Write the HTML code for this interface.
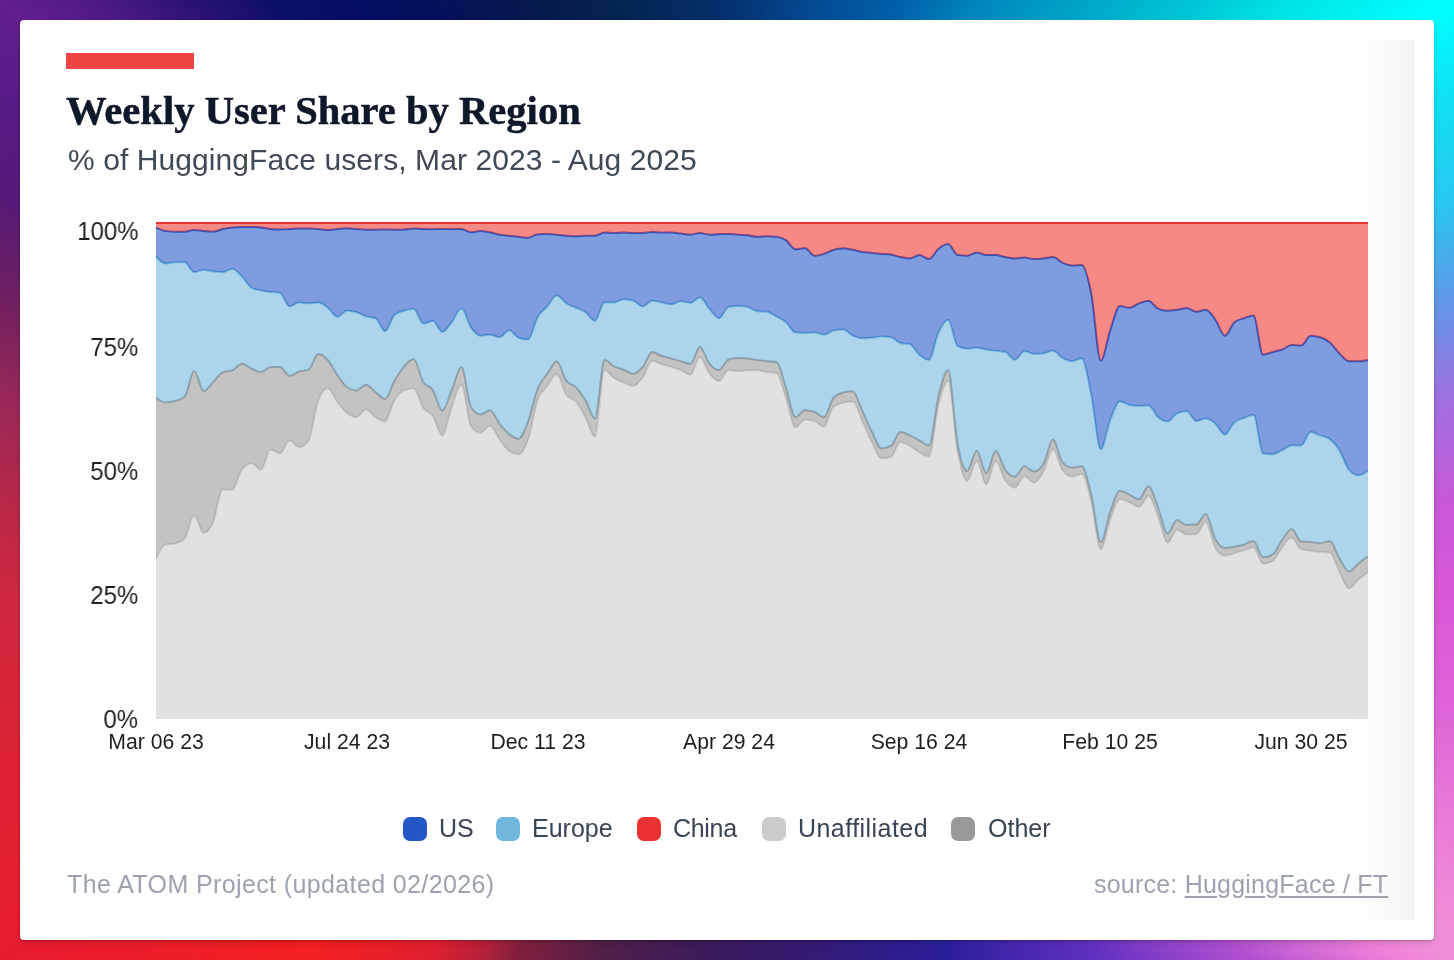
<!DOCTYPE html>
<html><head><meta charset="utf-8">
<style>
html,body{margin:0;padding:0;width:1454px;height:960px;overflow:hidden;}
body{position:relative;background:conic-gradient(from 0deg at 50% 50%,
 #05306e 0deg,#044a92 10deg,#0060a8 19.8deg,#0086bd 28deg,#00a8c8 37.8deg,#00c8d8 45deg,#00e4e6 50deg,#00ffff 56.6deg,
 #10e0f4 62deg,#28c8f0 68.7deg,#6098e8 75.9deg,#a070e0 83.6deg,#c858d8 91.6deg,#d858d8 99.5deg,#e068d8 109.2deg,#e878d8 114.1deg,#f08ad8 120.4deg,#f090d8 123.4deg,#f080d8 125.5deg,#b050d0 132.5deg,
 #6030c0 142.2deg,#2a1f9a 155deg,#341a70 171deg,#3c1a5a 183deg,#502048 195deg,#80203c 203.8deg,#b0203a 207deg,#e02030 212deg,#f42020 221.7deg,#e81c30 236.6deg,#e61f30 239.6deg,#e02234 245.9deg,#dc2438 250.8deg,
 #d02840 260.5deg,#b82848 268.4deg,#982858 276.4deg,#702060 284.1deg,#561a78 291.3deg,#581c88 297.9deg,#611f8d 303.4deg,#4e1a85 307deg,#2c1275 311.3deg,#0c0f66 316.4deg,#040e62 322.6deg,#061258 330deg,
 #061a4c 338.7deg,#052450 347deg,#05306e 360deg);}
.card{position:absolute;left:20px;top:20px;width:1414px;height:920px;background:#fff;border-radius:4px;box-shadow:0 1px 2px rgba(0,0,0,.18),0 3px 6px rgba(0,0,0,.12);}
.fade{position:absolute;left:1356px;top:40px;width:58px;height:880px;background:linear-gradient(90deg,rgba(0,0,0,0),rgba(0,0,0,.018) 50%,rgba(0,0,0,.045));}
.abs{position:absolute;white-space:nowrap;will-change:transform;}
.bar{position:absolute;left:66px;top:53px;width:128px;height:16px;background:#ef4444;}
.title{left:66px;top:86px;font-family:"Liberation Serif",serif;font-weight:700;font-size:40.6px;color:#0f172a;line-height:50px;-webkit-text-stroke:0.5px #0f172a;}
.sub{left:67.5px;top:142px;font-family:"Liberation Sans",sans-serif;font-size:30px;letter-spacing:.08px;color:#3f4957;line-height:36px;}
.yl{font-family:"Liberation Sans",sans-serif;font-size:25.6px;color:#1f1f1f;right:1316px;line-height:28px;text-align:right;transform:scaleX(.935);transform-origin:100% 50%;}
.xl{font-family:"Liberation Sans",sans-serif;font-size:21.2px;color:#1f1f1f;line-height:24px;width:200px;text-align:center;top:730px;}
.leg{font-family:"Liberation Sans",sans-serif;font-size:25px;color:#394454;line-height:30px;top:813px;}
.sw{position:absolute;top:817px;width:24px;height:24px;border-radius:7px;}
.foot{font-family:"Liberation Sans",sans-serif;font-size:25px;color:#9ca3af;line-height:30px;top:869px;}
svg{position:absolute;left:0;top:0;}
</style></head><body>
<div class="card"></div>
<div class="fade"></div>
<div class="bar"></div>
<div class="abs title">Weekly User Share by Region</div>
<div class="abs sub">% of HuggingFace users, Mar 2023 - Aug 2025</div>
<svg width="1454" height="960" viewBox="0 0 1454 960">
<path d="M156,559.2C159.18,552.27,162.36,545.33,165.54,544.6C168.72,543.87,171.91,544.23,175.09,543.5C178.27,542.77,181.45,541.97,184.63,538.9C187.81,535.83,190.99,515.4,194.17,515.4C197.35,515.4,200.54,533.1,203.72,533.1C206.9,533.1,210.08,529.18,213.26,521.9C216.44,514.62,219.62,489.4,222.8,489.4C225.98,489.4,229.17,489.9,232.35,489.9C235.53,489.9,238.71,474.13,241.89,469.8C245.07,465.47,248.25,463.3,251.43,463.3C254.61,463.3,257.8,469.8,260.98,469.8C264.16,469.8,267.34,449.8,270.52,449.8C273.7,449.8,276.88,453.4,280.06,453.4C283.24,453.4,286.43,440.4,289.61,440.4C292.79,440.4,295.97,447.2,299.15,447.2C302.33,447.2,305.51,444.93,308.69,440.4C311.87,435.87,315.06,409.13,318.24,400.8C321.42,392.47,324.6,388.3,327.78,388.3C330.96,388.3,334.14,397.88,337.32,402C340.5,406.12,343.69,410.47,346.87,413C350.05,415.53,353.23,417.2,356.41,417.2C359.59,417.2,362.77,409.4,365.95,409.4C369.13,409.4,372.31,415.17,375.5,417.2C378.68,419.23,381.86,421.6,385.04,421.6C388.22,421.6,391.4,405.5,394.58,400.3C397.76,395.1,400.94,391.6,404.13,390.4C407.31,389.2,410.49,388.6,413.67,388.6C416.85,388.6,420.03,403.55,423.21,408.1C426.39,412.65,429.57,411.33,432.76,415.9C435.94,420.47,439.12,435.5,442.3,435.5C445.48,435.5,448.66,415.27,451.84,406.8C455.02,398.33,458.2,384.7,461.39,384.7C464.57,384.7,467.75,421.97,470.93,426.3C474.11,430.63,477.29,432.8,480.47,432.8C483.65,432.8,486.83,425.8,490.02,425.8C493.2,425.8,496.38,435.18,499.56,439.4C502.74,443.62,505.92,448.97,509.1,451.1C512.28,453.23,515.46,454.3,518.65,454.3C521.83,454.3,525.01,448.45,528.19,439.4C531.37,430.35,534.55,408.9,537.73,400C540.91,391.1,544.09,390.28,547.28,386C550.46,381.72,553.64,374.3,556.82,374.3C560,374.3,563.18,390.77,566.36,395.1C569.54,399.43,572.72,397.92,575.91,401.6C579.09,405.28,582.27,411.33,585.45,417.2C588.63,423.07,591.81,436.8,594.99,436.8C598.17,436.8,601.35,370.3,604.54,370.3C607.72,370.3,610.9,376.15,614.08,378.2C617.26,380.25,620.44,381.3,623.62,382.6C626.8,383.9,629.98,386,633.17,386C636.35,386,639.53,381.62,642.71,377.4C645.89,373.18,649.07,360.7,652.25,360.7C655.43,360.7,658.61,363.35,661.8,364.4C664.98,365.45,668.16,366.02,671.34,367C674.52,367.98,677.7,369,680.88,370.3C684.06,371.6,687.24,374.8,690.43,374.8C693.61,374.8,696.79,357.3,699.97,357.3C703.15,357.3,706.33,369.75,709.51,373.7C712.69,377.65,715.87,381,719.06,381C722.24,381,725.42,370.3,728.6,370.3C731.78,370.3,734.96,371.1,738.14,371.1C741.32,371.1,744.5,370.3,747.69,370.3C750.87,370.3,754.05,370.3,757.23,370.3C760.41,370.3,763.59,371.75,766.77,372.2C769.95,372.65,773.13,372.47,776.31,373C779.5,373.53,782.68,388.6,785.86,397.7C789.04,406.8,792.22,427.6,795.4,427.6C798.58,427.6,801.76,419.8,804.94,419.8C808.13,419.8,811.31,420.23,814.49,421.1C817.67,421.97,820.85,426.9,824.03,426.9C827.21,426.9,830.39,409.4,833.57,406.8C836.76,404.2,839.94,403.77,843.12,402.9C846.3,402.03,849.48,401.6,852.66,401.6C855.84,401.6,859.02,414.37,862.2,421.1C865.39,427.83,868.57,435.8,871.75,442C874.93,448.2,878.11,458.3,881.29,458.3C884.47,458.3,887.65,457.97,890.83,457.3C894.02,456.63,897.2,442,900.38,442C903.56,442,906.74,444.15,909.92,445.9C913.1,447.65,916.28,450.73,919.46,452.5C922.65,454.27,925.83,456.5,929.01,456.5C932.19,456.5,935.37,417.68,938.55,405.1C941.73,392.52,944.91,381,948.09,381C951.28,381,954.46,435.33,957.64,452C960.82,468.67,964,481,967.18,481C970.36,481,973.54,461.5,976.72,461.5C979.91,461.5,983.09,484.6,986.27,484.6C989.45,484.6,992.63,461.5,995.81,461.5C998.99,461.5,1002.17,476.23,1005.35,480.6C1008.54,484.97,1011.72,487.7,1014.9,487.7C1018.08,487.7,1021.26,476.3,1024.44,476.3C1027.62,476.3,1030.8,482.8,1033.98,482.8C1037.17,482.8,1040.35,477.07,1043.53,471.5C1046.71,465.93,1049.89,449.4,1053.07,449.4C1056.25,449.4,1059.43,466.37,1062.61,470.5C1065.8,474.63,1068.98,476.7,1072.16,476.7C1075.34,476.7,1078.52,474.1,1081.7,474.1C1084.88,474.1,1088.06,488.97,1091.24,501.5C1094.43,514.03,1097.61,549.3,1100.79,549.3C1103.97,549.3,1107.15,527.83,1110.33,519.5C1113.51,511.17,1116.69,499.3,1119.87,499.3C1123.06,499.3,1126.24,501.1,1129.42,502.4C1132.6,503.7,1135.78,507.1,1138.96,507.1C1142.14,507.1,1145.32,495.9,1148.5,495.9C1151.69,495.9,1154.87,508.88,1158.05,516.7C1161.23,524.52,1164.41,542.8,1167.59,542.8C1170.77,542.8,1173.95,529.7,1177.13,529.7C1180.31,529.7,1183.5,534.5,1186.68,534.5C1189.86,534.5,1193.04,534.43,1196.22,534.3C1199.4,534.17,1202.58,521.9,1205.76,521.9C1208.94,521.9,1212.13,542.8,1215.31,548C1218.49,553.2,1221.67,555.8,1224.85,555.8C1228.03,555.8,1231.21,554.07,1234.39,553.2C1237.57,552.33,1240.76,551.55,1243.94,550.6C1247.12,549.65,1250.3,547.5,1253.48,547.5C1256.66,547.5,1259.84,563.8,1263.02,563.8C1266.2,563.8,1269.39,562.93,1272.57,561.2C1275.75,559.47,1278.93,551.45,1282.11,547.5C1285.29,543.55,1288.47,537.5,1291.65,537.5C1294.83,537.5,1298.02,548.2,1301.2,549.2C1304.38,550.2,1307.56,550.23,1310.74,550.7C1313.92,551.17,1317.1,551.68,1320.28,552C1323.46,552.32,1326.65,552.2,1329.83,552.6C1333.01,553,1336.19,565.92,1339.37,571.9C1342.55,577.88,1345.73,588.5,1348.91,588.5C1352.09,588.5,1355.28,582.47,1358.46,579.7C1361.64,576.93,1364.82,574.42,1368,571.9L1368,719C1364.82,719,1361.64,719,1358.46,719C1355.28,719,1352.09,719,1348.91,719C1345.73,719,1342.55,719,1339.37,719C1336.19,719,1333.01,719,1329.83,719C1326.65,719,1323.46,719,1320.28,719C1317.1,719,1313.92,719,1310.74,719C1307.56,719,1304.38,719,1301.2,719C1298.02,719,1294.83,719,1291.65,719C1288.47,719,1285.29,719,1282.11,719C1278.93,719,1275.75,719,1272.57,719C1269.39,719,1266.2,719,1263.02,719C1259.84,719,1256.66,719,1253.48,719C1250.3,719,1247.12,719,1243.94,719C1240.76,719,1237.57,719,1234.39,719C1231.21,719,1228.03,719,1224.85,719C1221.67,719,1218.49,719,1215.31,719C1212.13,719,1208.94,719,1205.76,719C1202.58,719,1199.4,719,1196.22,719C1193.04,719,1189.86,719,1186.68,719C1183.5,719,1180.31,719,1177.13,719C1173.95,719,1170.77,719,1167.59,719C1164.41,719,1161.23,719,1158.05,719C1154.87,719,1151.69,719,1148.5,719C1145.32,719,1142.14,719,1138.96,719C1135.78,719,1132.6,719,1129.42,719C1126.24,719,1123.06,719,1119.87,719C1116.69,719,1113.51,719,1110.33,719C1107.15,719,1103.97,719,1100.79,719C1097.61,719,1094.43,719,1091.24,719C1088.06,719,1084.88,719,1081.7,719C1078.52,719,1075.34,719,1072.16,719C1068.98,719,1065.8,719,1062.61,719C1059.43,719,1056.25,719,1053.07,719C1049.89,719,1046.71,719,1043.53,719C1040.35,719,1037.17,719,1033.98,719C1030.8,719,1027.62,719,1024.44,719C1021.26,719,1018.08,719,1014.9,719C1011.72,719,1008.54,719,1005.35,719C1002.17,719,998.99,719,995.81,719C992.63,719,989.45,719,986.27,719C983.09,719,979.91,719,976.72,719C973.54,719,970.36,719,967.18,719C964,719,960.82,719,957.64,719C954.46,719,951.28,719,948.09,719C944.91,719,941.73,719,938.55,719C935.37,719,932.19,719,929.01,719C925.83,719,922.65,719,919.46,719C916.28,719,913.1,719,909.92,719C906.74,719,903.56,719,900.38,719C897.2,719,894.02,719,890.83,719C887.65,719,884.47,719,881.29,719C878.11,719,874.93,719,871.75,719C868.57,719,865.39,719,862.2,719C859.02,719,855.84,719,852.66,719C849.48,719,846.3,719,843.12,719C839.94,719,836.76,719,833.57,719C830.39,719,827.21,719,824.03,719C820.85,719,817.67,719,814.49,719C811.31,719,808.13,719,804.94,719C801.76,719,798.58,719,795.4,719C792.22,719,789.04,719,785.86,719C782.68,719,779.5,719,776.31,719C773.13,719,769.95,719,766.77,719C763.59,719,760.41,719,757.23,719C754.05,719,750.87,719,747.69,719C744.5,719,741.32,719,738.14,719C734.96,719,731.78,719,728.6,719C725.42,719,722.24,719,719.06,719C715.87,719,712.69,719,709.51,719C706.33,719,703.15,719,699.97,719C696.79,719,693.61,719,690.43,719C687.24,719,684.06,719,680.88,719C677.7,719,674.52,719,671.34,719C668.16,719,664.98,719,661.8,719C658.61,719,655.43,719,652.25,719C649.07,719,645.89,719,642.71,719C639.53,719,636.35,719,633.17,719C629.98,719,626.8,719,623.62,719C620.44,719,617.26,719,614.08,719C610.9,719,607.72,719,604.54,719C601.35,719,598.17,719,594.99,719C591.81,719,588.63,719,585.45,719C582.27,719,579.09,719,575.91,719C572.72,719,569.54,719,566.36,719C563.18,719,560,719,556.82,719C553.64,719,550.46,719,547.28,719C544.09,719,540.91,719,537.73,719C534.55,719,531.37,719,528.19,719C525.01,719,521.83,719,518.65,719C515.46,719,512.28,719,509.1,719C505.92,719,502.74,719,499.56,719C496.38,719,493.2,719,490.02,719C486.83,719,483.65,719,480.47,719C477.29,719,474.11,719,470.93,719C467.75,719,464.57,719,461.39,719C458.2,719,455.02,719,451.84,719C448.66,719,445.48,719,442.3,719C439.12,719,435.94,719,432.76,719C429.57,719,426.39,719,423.21,719C420.03,719,416.85,719,413.67,719C410.49,719,407.31,719,404.13,719C400.94,719,397.76,719,394.58,719C391.4,719,388.22,719,385.04,719C381.86,719,378.68,719,375.5,719C372.31,719,369.13,719,365.95,719C362.77,719,359.59,719,356.41,719C353.23,719,350.05,719,346.87,719C343.69,719,340.5,719,337.32,719C334.14,719,330.96,719,327.78,719C324.6,719,321.42,719,318.24,719C315.06,719,311.87,719,308.69,719C305.51,719,302.33,719,299.15,719C295.97,719,292.79,719,289.61,719C286.43,719,283.24,719,280.06,719C276.88,719,273.7,719,270.52,719C267.34,719,264.16,719,260.98,719C257.8,719,254.61,719,251.43,719C248.25,719,245.07,719,241.89,719C238.71,719,235.53,719,232.35,719C229.17,719,225.98,719,222.8,719C219.62,719,216.44,719,213.26,719C210.08,719,206.9,719,203.72,719C200.54,719,197.35,719,194.17,719C190.99,719,187.81,719,184.63,719C181.45,719,178.27,719,175.09,719C171.91,719,168.72,719,165.54,719C162.36,719,159.18,719,156,719Z" fill="#cccccc" fill-opacity="0.585"/>
<path d="M156,559.2C159.18,552.27,162.36,545.33,165.54,544.6C168.72,543.87,171.91,544.23,175.09,543.5C178.27,542.77,181.45,541.97,184.63,538.9C187.81,535.83,190.99,515.4,194.17,515.4C197.35,515.4,200.54,533.1,203.72,533.1C206.9,533.1,210.08,529.18,213.26,521.9C216.44,514.62,219.62,489.4,222.8,489.4C225.98,489.4,229.17,489.9,232.35,489.9C235.53,489.9,238.71,474.13,241.89,469.8C245.07,465.47,248.25,463.3,251.43,463.3C254.61,463.3,257.8,469.8,260.98,469.8C264.16,469.8,267.34,449.8,270.52,449.8C273.7,449.8,276.88,453.4,280.06,453.4C283.24,453.4,286.43,440.4,289.61,440.4C292.79,440.4,295.97,447.2,299.15,447.2C302.33,447.2,305.51,444.93,308.69,440.4C311.87,435.87,315.06,409.13,318.24,400.8C321.42,392.47,324.6,388.3,327.78,388.3C330.96,388.3,334.14,397.88,337.32,402C340.5,406.12,343.69,410.47,346.87,413C350.05,415.53,353.23,417.2,356.41,417.2C359.59,417.2,362.77,409.4,365.95,409.4C369.13,409.4,372.31,415.17,375.5,417.2C378.68,419.23,381.86,421.6,385.04,421.6C388.22,421.6,391.4,405.5,394.58,400.3C397.76,395.1,400.94,391.6,404.13,390.4C407.31,389.2,410.49,388.6,413.67,388.6C416.85,388.6,420.03,403.55,423.21,408.1C426.39,412.65,429.57,411.33,432.76,415.9C435.94,420.47,439.12,435.5,442.3,435.5C445.48,435.5,448.66,415.27,451.84,406.8C455.02,398.33,458.2,384.7,461.39,384.7C464.57,384.7,467.75,421.97,470.93,426.3C474.11,430.63,477.29,432.8,480.47,432.8C483.65,432.8,486.83,425.8,490.02,425.8C493.2,425.8,496.38,435.18,499.56,439.4C502.74,443.62,505.92,448.97,509.1,451.1C512.28,453.23,515.46,454.3,518.65,454.3C521.83,454.3,525.01,448.45,528.19,439.4C531.37,430.35,534.55,408.9,537.73,400C540.91,391.1,544.09,390.28,547.28,386C550.46,381.72,553.64,374.3,556.82,374.3C560,374.3,563.18,390.77,566.36,395.1C569.54,399.43,572.72,397.92,575.91,401.6C579.09,405.28,582.27,411.33,585.45,417.2C588.63,423.07,591.81,436.8,594.99,436.8C598.17,436.8,601.35,370.3,604.54,370.3C607.72,370.3,610.9,376.15,614.08,378.2C617.26,380.25,620.44,381.3,623.62,382.6C626.8,383.9,629.98,386,633.17,386C636.35,386,639.53,381.62,642.71,377.4C645.89,373.18,649.07,360.7,652.25,360.7C655.43,360.7,658.61,363.35,661.8,364.4C664.98,365.45,668.16,366.02,671.34,367C674.52,367.98,677.7,369,680.88,370.3C684.06,371.6,687.24,374.8,690.43,374.8C693.61,374.8,696.79,357.3,699.97,357.3C703.15,357.3,706.33,369.75,709.51,373.7C712.69,377.65,715.87,381,719.06,381C722.24,381,725.42,370.3,728.6,370.3C731.78,370.3,734.96,371.1,738.14,371.1C741.32,371.1,744.5,370.3,747.69,370.3C750.87,370.3,754.05,370.3,757.23,370.3C760.41,370.3,763.59,371.75,766.77,372.2C769.95,372.65,773.13,372.47,776.31,373C779.5,373.53,782.68,388.6,785.86,397.7C789.04,406.8,792.22,427.6,795.4,427.6C798.58,427.6,801.76,419.8,804.94,419.8C808.13,419.8,811.31,420.23,814.49,421.1C817.67,421.97,820.85,426.9,824.03,426.9C827.21,426.9,830.39,409.4,833.57,406.8C836.76,404.2,839.94,403.77,843.12,402.9C846.3,402.03,849.48,401.6,852.66,401.6C855.84,401.6,859.02,414.37,862.2,421.1C865.39,427.83,868.57,435.8,871.75,442C874.93,448.2,878.11,458.3,881.29,458.3C884.47,458.3,887.65,457.97,890.83,457.3C894.02,456.63,897.2,442,900.38,442C903.56,442,906.74,444.15,909.92,445.9C913.1,447.65,916.28,450.73,919.46,452.5C922.65,454.27,925.83,456.5,929.01,456.5C932.19,456.5,935.37,417.68,938.55,405.1C941.73,392.52,944.91,381,948.09,381C951.28,381,954.46,435.33,957.64,452C960.82,468.67,964,481,967.18,481C970.36,481,973.54,461.5,976.72,461.5C979.91,461.5,983.09,484.6,986.27,484.6C989.45,484.6,992.63,461.5,995.81,461.5C998.99,461.5,1002.17,476.23,1005.35,480.6C1008.54,484.97,1011.72,487.7,1014.9,487.7C1018.08,487.7,1021.26,476.3,1024.44,476.3C1027.62,476.3,1030.8,482.8,1033.98,482.8C1037.17,482.8,1040.35,477.07,1043.53,471.5C1046.71,465.93,1049.89,449.4,1053.07,449.4C1056.25,449.4,1059.43,466.37,1062.61,470.5C1065.8,474.63,1068.98,476.7,1072.16,476.7C1075.34,476.7,1078.52,474.1,1081.7,474.1C1084.88,474.1,1088.06,488.97,1091.24,501.5C1094.43,514.03,1097.61,549.3,1100.79,549.3C1103.97,549.3,1107.15,527.83,1110.33,519.5C1113.51,511.17,1116.69,499.3,1119.87,499.3C1123.06,499.3,1126.24,501.1,1129.42,502.4C1132.6,503.7,1135.78,507.1,1138.96,507.1C1142.14,507.1,1145.32,495.9,1148.5,495.9C1151.69,495.9,1154.87,508.88,1158.05,516.7C1161.23,524.52,1164.41,542.8,1167.59,542.8C1170.77,542.8,1173.95,529.7,1177.13,529.7C1180.31,529.7,1183.5,534.5,1186.68,534.5C1189.86,534.5,1193.04,534.43,1196.22,534.3C1199.4,534.17,1202.58,521.9,1205.76,521.9C1208.94,521.9,1212.13,542.8,1215.31,548C1218.49,553.2,1221.67,555.8,1224.85,555.8C1228.03,555.8,1231.21,554.07,1234.39,553.2C1237.57,552.33,1240.76,551.55,1243.94,550.6C1247.12,549.65,1250.3,547.5,1253.48,547.5C1256.66,547.5,1259.84,563.8,1263.02,563.8C1266.2,563.8,1269.39,562.93,1272.57,561.2C1275.75,559.47,1278.93,551.45,1282.11,547.5C1285.29,543.55,1288.47,537.5,1291.65,537.5C1294.83,537.5,1298.02,548.2,1301.2,549.2C1304.38,550.2,1307.56,550.23,1310.74,550.7C1313.92,551.17,1317.1,551.68,1320.28,552C1323.46,552.32,1326.65,552.2,1329.83,552.6C1333.01,553,1336.19,565.92,1339.37,571.9C1342.55,577.88,1345.73,588.5,1348.91,588.5C1352.09,588.5,1355.28,582.47,1358.46,579.7C1361.64,576.93,1364.82,574.42,1368,571.9" fill="none" stroke="#cccccc" stroke-width="2"/>
<path d="M156,397.7C159.18,400.05,162.36,402.4,165.54,402.4C168.72,402.4,171.91,401.9,175.09,401C178.27,400.1,181.45,399.67,184.63,397C187.81,394.33,190.99,371,194.17,371C197.35,371,200.54,391.2,203.72,391.2C206.9,391.2,210.08,385.17,213.26,382C216.44,378.83,219.62,373.47,222.8,372.2C225.98,370.93,229.17,371.57,232.35,370.3C235.53,369.03,238.71,363.8,241.89,363.8C245.07,363.8,248.25,367.1,251.43,368.5C254.61,369.9,257.8,372.2,260.98,372.2C264.16,372.2,267.34,367,270.52,367C273.7,367,276.88,367,280.06,367C283.24,367,286.43,375.8,289.61,375.8C292.79,375.8,295.97,372.63,299.15,371.6C302.33,370.57,305.51,370.93,308.69,369.6C311.87,368.27,315.06,354,318.24,354C321.42,354,324.6,356.5,327.78,360C330.96,363.5,334.14,370.5,337.32,375C340.5,379.5,343.69,384.73,346.87,387C350.05,389.27,353.23,390.4,356.41,390.4C359.59,390.4,362.77,384.7,365.95,384.7C369.13,384.7,372.31,389.62,375.5,392C378.68,394.38,381.86,399,385.04,399C388.22,399,391.4,386.23,394.58,380.8C397.76,375.37,400.94,370.02,404.13,366.4C407.31,362.78,410.49,359.1,413.67,359.1C416.85,359.1,420.03,376.87,423.21,382C426.39,387.13,429.57,385.12,432.76,389.9C435.94,394.68,439.12,410.7,442.3,410.7C445.48,410.7,448.66,397.18,451.84,389.9C455.02,382.62,458.2,367,461.39,367C464.57,367,467.75,401.6,470.93,406.8C474.11,412,477.29,414.6,480.47,414.6C483.65,414.6,486.83,410.2,490.02,410.2C493.2,410.2,496.38,419.72,499.56,423.7C502.74,427.68,505.92,431.58,509.1,434.1C512.28,436.62,515.46,438.8,518.65,438.8C521.83,438.8,525.01,429.47,528.19,421.1C531.37,412.73,534.55,396.5,537.73,388.6C540.91,380.7,544.09,378.27,547.28,373.7C550.46,369.13,553.64,361.2,556.82,361.2C560,361.2,563.18,376.47,566.36,380.8C569.54,385.13,572.72,384.05,575.91,387.3C579.09,390.55,582.27,395.1,585.45,400.3C588.63,405.5,591.81,418.5,594.99,418.5C598.17,418.5,601.35,359.9,604.54,359.9C607.72,359.9,610.9,364.78,614.08,366.4C617.26,368.02,620.44,368.38,623.62,369.6C626.8,370.82,629.98,373.7,633.17,373.7C636.35,373.7,639.53,370.6,642.71,367C645.89,363.4,649.07,352.1,652.25,352.1C655.43,352.1,658.61,354.92,661.8,356C664.98,357.08,668.16,357.73,671.34,358.6C674.52,359.47,677.7,360.33,680.88,361.2C684.06,362.07,687.24,363.8,690.43,363.8C693.61,363.8,696.79,346.9,699.97,346.9C703.15,346.9,706.33,359.95,709.51,363.8C712.69,367.65,715.87,370,719.06,370C722.24,370,725.42,360.43,728.6,359.5C731.78,358.57,734.96,358.1,738.14,358.1C741.32,358.1,744.5,358.3,747.69,358.6C750.87,358.9,754.05,359.47,757.23,359.9C760.41,360.33,763.59,360.88,766.77,361.2C769.95,361.52,773.13,361.4,776.31,361.8C779.5,362.2,782.68,378.07,785.86,387.3C789.04,396.53,792.22,417.2,795.4,417.2C798.58,417.2,801.76,410.2,804.94,410.2C808.13,410.2,811.31,410.83,814.49,412C817.67,413.17,820.85,417.2,824.03,417.2C827.21,417.2,830.39,401.17,833.57,397.7C836.76,394.23,839.94,393.37,843.12,392.5C846.3,391.63,849.48,391.2,852.66,391.2C855.84,391.2,859.02,403.98,862.2,410.7C865.39,417.42,868.57,425.2,871.75,431.5C874.93,437.8,878.11,448.5,881.29,448.5C884.47,448.5,887.65,447.63,890.83,445.9C894.02,444.17,897.2,432.1,900.38,432.1C903.56,432.1,906.74,434,909.92,435.4C913.1,436.8,916.28,438.82,919.46,440.5C922.65,442.18,925.83,445.5,929.01,445.5C932.19,445.5,935.37,408.58,938.55,396C941.73,383.42,944.91,370,948.09,370C951.28,370,954.46,427.37,957.64,444.2C960.82,461.03,964,471,967.18,471C970.36,471,973.54,450.7,976.72,450.7C979.91,450.7,983.09,473.3,986.27,473.3C989.45,473.3,992.63,450.8,995.81,450.8C998.99,450.8,1002.17,465.87,1005.35,470.2C1008.54,474.53,1011.72,476.8,1014.9,476.8C1018.08,476.8,1021.26,466.3,1024.44,466.3C1027.62,466.3,1030.8,471.5,1033.98,471.5C1037.17,471.5,1040.35,468.9,1043.53,463.7C1046.71,458.5,1049.89,439.5,1053.07,439.5C1056.25,439.5,1059.43,458.93,1062.61,462.4C1065.8,465.87,1068.98,467.6,1072.16,467.6C1075.34,467.6,1078.52,466.3,1081.7,466.3C1084.88,466.3,1088.06,481.83,1091.24,494.5C1094.43,507.17,1097.61,542.3,1100.79,542.3C1103.97,542.3,1107.15,520.1,1110.33,511.5C1113.51,502.9,1116.69,490.7,1119.87,490.7C1123.06,490.7,1126.24,493.17,1129.42,494.6C1132.6,496.03,1135.78,499.3,1138.96,499.3C1142.14,499.3,1145.32,486.3,1148.5,486.3C1151.69,486.3,1154.87,499.75,1158.05,507.6C1161.23,515.45,1164.41,533.4,1167.59,533.4C1170.77,533.4,1173.95,520.1,1177.13,520.1C1180.31,520.1,1183.5,525,1186.68,525C1189.86,525,1193.04,524.87,1196.22,524.6C1199.4,524.33,1202.58,514.1,1205.76,514.1C1208.94,514.1,1212.13,533.25,1215.31,538.9C1218.49,544.55,1221.67,548,1224.85,548C1228.03,548,1231.21,547.27,1234.39,546.7C1237.57,546.13,1240.76,545.55,1243.94,544.6C1247.12,543.65,1250.3,541,1253.48,541C1256.66,541,1259.84,557.2,1263.02,557.2C1266.2,557.2,1269.39,556.3,1272.57,554.5C1275.75,552.7,1278.93,544.25,1282.11,540C1285.29,535.75,1288.47,529,1291.65,529C1294.83,529,1298.02,541.07,1301.2,541.4C1304.38,541.73,1307.56,541.6,1310.74,541.9C1313.92,542.2,1317.1,543.2,1320.28,543.2C1323.46,543.2,1326.65,541.1,1329.83,541.1C1333.01,541.1,1336.19,553.25,1339.37,558.3C1342.55,563.35,1345.73,571.4,1348.91,571.4C1352.09,571.4,1355.28,566.02,1358.46,563.5C1361.64,560.98,1364.82,558.64,1368,556.3L1368,571.9C1364.82,574.42,1361.64,576.93,1358.46,579.7C1355.28,582.47,1352.09,588.5,1348.91,588.5C1345.73,588.5,1342.55,577.88,1339.37,571.9C1336.19,565.92,1333.01,553,1329.83,552.6C1326.65,552.2,1323.46,552.32,1320.28,552C1317.1,551.68,1313.92,551.17,1310.74,550.7C1307.56,550.23,1304.38,550.2,1301.2,549.2C1298.02,548.2,1294.83,537.5,1291.65,537.5C1288.47,537.5,1285.29,543.55,1282.11,547.5C1278.93,551.45,1275.75,559.47,1272.57,561.2C1269.39,562.93,1266.2,563.8,1263.02,563.8C1259.84,563.8,1256.66,547.5,1253.48,547.5C1250.3,547.5,1247.12,549.65,1243.94,550.6C1240.76,551.55,1237.57,552.33,1234.39,553.2C1231.21,554.07,1228.03,555.8,1224.85,555.8C1221.67,555.8,1218.49,553.2,1215.31,548C1212.13,542.8,1208.94,521.9,1205.76,521.9C1202.58,521.9,1199.4,534.17,1196.22,534.3C1193.04,534.43,1189.86,534.5,1186.68,534.5C1183.5,534.5,1180.31,529.7,1177.13,529.7C1173.95,529.7,1170.77,542.8,1167.59,542.8C1164.41,542.8,1161.23,524.52,1158.05,516.7C1154.87,508.88,1151.69,495.9,1148.5,495.9C1145.32,495.9,1142.14,507.1,1138.96,507.1C1135.78,507.1,1132.6,503.7,1129.42,502.4C1126.24,501.1,1123.06,499.3,1119.87,499.3C1116.69,499.3,1113.51,511.17,1110.33,519.5C1107.15,527.83,1103.97,549.3,1100.79,549.3C1097.61,549.3,1094.43,514.03,1091.24,501.5C1088.06,488.97,1084.88,474.1,1081.7,474.1C1078.52,474.1,1075.34,476.7,1072.16,476.7C1068.98,476.7,1065.8,474.63,1062.61,470.5C1059.43,466.37,1056.25,449.4,1053.07,449.4C1049.89,449.4,1046.71,465.93,1043.53,471.5C1040.35,477.07,1037.17,482.8,1033.98,482.8C1030.8,482.8,1027.62,476.3,1024.44,476.3C1021.26,476.3,1018.08,487.7,1014.9,487.7C1011.72,487.7,1008.54,484.97,1005.35,480.6C1002.17,476.23,998.99,461.5,995.81,461.5C992.63,461.5,989.45,484.6,986.27,484.6C983.09,484.6,979.91,461.5,976.72,461.5C973.54,461.5,970.36,481,967.18,481C964,481,960.82,468.67,957.64,452C954.46,435.33,951.28,381,948.09,381C944.91,381,941.73,392.52,938.55,405.1C935.37,417.68,932.19,456.5,929.01,456.5C925.83,456.5,922.65,454.27,919.46,452.5C916.28,450.73,913.1,447.65,909.92,445.9C906.74,444.15,903.56,442,900.38,442C897.2,442,894.02,456.63,890.83,457.3C887.65,457.97,884.47,458.3,881.29,458.3C878.11,458.3,874.93,448.2,871.75,442C868.57,435.8,865.39,427.83,862.2,421.1C859.02,414.37,855.84,401.6,852.66,401.6C849.48,401.6,846.3,402.03,843.12,402.9C839.94,403.77,836.76,404.2,833.57,406.8C830.39,409.4,827.21,426.9,824.03,426.9C820.85,426.9,817.67,421.97,814.49,421.1C811.31,420.23,808.13,419.8,804.94,419.8C801.76,419.8,798.58,427.6,795.4,427.6C792.22,427.6,789.04,406.8,785.86,397.7C782.68,388.6,779.5,373.53,776.31,373C773.13,372.47,769.95,372.65,766.77,372.2C763.59,371.75,760.41,370.3,757.23,370.3C754.05,370.3,750.87,370.3,747.69,370.3C744.5,370.3,741.32,371.1,738.14,371.1C734.96,371.1,731.78,370.3,728.6,370.3C725.42,370.3,722.24,381,719.06,381C715.87,381,712.69,377.65,709.51,373.7C706.33,369.75,703.15,357.3,699.97,357.3C696.79,357.3,693.61,374.8,690.43,374.8C687.24,374.8,684.06,371.6,680.88,370.3C677.7,369,674.52,367.98,671.34,367C668.16,366.02,664.98,365.45,661.8,364.4C658.61,363.35,655.43,360.7,652.25,360.7C649.07,360.7,645.89,373.18,642.71,377.4C639.53,381.62,636.35,386,633.17,386C629.98,386,626.8,383.9,623.62,382.6C620.44,381.3,617.26,380.25,614.08,378.2C610.9,376.15,607.72,370.3,604.54,370.3C601.35,370.3,598.17,436.8,594.99,436.8C591.81,436.8,588.63,423.07,585.45,417.2C582.27,411.33,579.09,405.28,575.91,401.6C572.72,397.92,569.54,399.43,566.36,395.1C563.18,390.77,560,374.3,556.82,374.3C553.64,374.3,550.46,381.72,547.28,386C544.09,390.28,540.91,391.1,537.73,400C534.55,408.9,531.37,430.35,528.19,439.4C525.01,448.45,521.83,454.3,518.65,454.3C515.46,454.3,512.28,453.23,509.1,451.1C505.92,448.97,502.74,443.62,499.56,439.4C496.38,435.18,493.2,425.8,490.02,425.8C486.83,425.8,483.65,432.8,480.47,432.8C477.29,432.8,474.11,430.63,470.93,426.3C467.75,421.97,464.57,384.7,461.39,384.7C458.2,384.7,455.02,398.33,451.84,406.8C448.66,415.27,445.48,435.5,442.3,435.5C439.12,435.5,435.94,420.47,432.76,415.9C429.57,411.33,426.39,412.65,423.21,408.1C420.03,403.55,416.85,388.6,413.67,388.6C410.49,388.6,407.31,389.2,404.13,390.4C400.94,391.6,397.76,395.1,394.58,400.3C391.4,405.5,388.22,421.6,385.04,421.6C381.86,421.6,378.68,419.23,375.5,417.2C372.31,415.17,369.13,409.4,365.95,409.4C362.77,409.4,359.59,417.2,356.41,417.2C353.23,417.2,350.05,415.53,346.87,413C343.69,410.47,340.5,406.12,337.32,402C334.14,397.88,330.96,388.3,327.78,388.3C324.6,388.3,321.42,392.47,318.24,400.8C315.06,409.13,311.87,435.87,308.69,440.4C305.51,444.93,302.33,447.2,299.15,447.2C295.97,447.2,292.79,440.4,289.61,440.4C286.43,440.4,283.24,453.4,280.06,453.4C276.88,453.4,273.7,449.8,270.52,449.8C267.34,449.8,264.16,469.8,260.98,469.8C257.8,469.8,254.61,463.3,251.43,463.3C248.25,463.3,245.07,465.47,241.89,469.8C238.71,474.13,235.53,489.9,232.35,489.9C229.17,489.9,225.98,489.4,222.8,489.4C219.62,489.4,216.44,514.62,213.26,521.9C210.08,529.18,206.9,533.1,203.72,533.1C200.54,533.1,197.35,515.4,194.17,515.4C190.99,515.4,187.81,535.83,184.63,538.9C181.45,541.97,178.27,542.77,175.09,543.5C171.91,544.23,168.72,543.87,165.54,544.6C162.36,545.33,159.18,552.27,156,559.2Z" fill="#999999" fill-opacity="0.585"/>
<path d="M156,397.7C159.18,400.05,162.36,402.4,165.54,402.4C168.72,402.4,171.91,401.9,175.09,401C178.27,400.1,181.45,399.67,184.63,397C187.81,394.33,190.99,371,194.17,371C197.35,371,200.54,391.2,203.72,391.2C206.9,391.2,210.08,385.17,213.26,382C216.44,378.83,219.62,373.47,222.8,372.2C225.98,370.93,229.17,371.57,232.35,370.3C235.53,369.03,238.71,363.8,241.89,363.8C245.07,363.8,248.25,367.1,251.43,368.5C254.61,369.9,257.8,372.2,260.98,372.2C264.16,372.2,267.34,367,270.52,367C273.7,367,276.88,367,280.06,367C283.24,367,286.43,375.8,289.61,375.8C292.79,375.8,295.97,372.63,299.15,371.6C302.33,370.57,305.51,370.93,308.69,369.6C311.87,368.27,315.06,354,318.24,354C321.42,354,324.6,356.5,327.78,360C330.96,363.5,334.14,370.5,337.32,375C340.5,379.5,343.69,384.73,346.87,387C350.05,389.27,353.23,390.4,356.41,390.4C359.59,390.4,362.77,384.7,365.95,384.7C369.13,384.7,372.31,389.62,375.5,392C378.68,394.38,381.86,399,385.04,399C388.22,399,391.4,386.23,394.58,380.8C397.76,375.37,400.94,370.02,404.13,366.4C407.31,362.78,410.49,359.1,413.67,359.1C416.85,359.1,420.03,376.87,423.21,382C426.39,387.13,429.57,385.12,432.76,389.9C435.94,394.68,439.12,410.7,442.3,410.7C445.48,410.7,448.66,397.18,451.84,389.9C455.02,382.62,458.2,367,461.39,367C464.57,367,467.75,401.6,470.93,406.8C474.11,412,477.29,414.6,480.47,414.6C483.65,414.6,486.83,410.2,490.02,410.2C493.2,410.2,496.38,419.72,499.56,423.7C502.74,427.68,505.92,431.58,509.1,434.1C512.28,436.62,515.46,438.8,518.65,438.8C521.83,438.8,525.01,429.47,528.19,421.1C531.37,412.73,534.55,396.5,537.73,388.6C540.91,380.7,544.09,378.27,547.28,373.7C550.46,369.13,553.64,361.2,556.82,361.2C560,361.2,563.18,376.47,566.36,380.8C569.54,385.13,572.72,384.05,575.91,387.3C579.09,390.55,582.27,395.1,585.45,400.3C588.63,405.5,591.81,418.5,594.99,418.5C598.17,418.5,601.35,359.9,604.54,359.9C607.72,359.9,610.9,364.78,614.08,366.4C617.26,368.02,620.44,368.38,623.62,369.6C626.8,370.82,629.98,373.7,633.17,373.7C636.35,373.7,639.53,370.6,642.71,367C645.89,363.4,649.07,352.1,652.25,352.1C655.43,352.1,658.61,354.92,661.8,356C664.98,357.08,668.16,357.73,671.34,358.6C674.52,359.47,677.7,360.33,680.88,361.2C684.06,362.07,687.24,363.8,690.43,363.8C693.61,363.8,696.79,346.9,699.97,346.9C703.15,346.9,706.33,359.95,709.51,363.8C712.69,367.65,715.87,370,719.06,370C722.24,370,725.42,360.43,728.6,359.5C731.78,358.57,734.96,358.1,738.14,358.1C741.32,358.1,744.5,358.3,747.69,358.6C750.87,358.9,754.05,359.47,757.23,359.9C760.41,360.33,763.59,360.88,766.77,361.2C769.95,361.52,773.13,361.4,776.31,361.8C779.5,362.2,782.68,378.07,785.86,387.3C789.04,396.53,792.22,417.2,795.4,417.2C798.58,417.2,801.76,410.2,804.94,410.2C808.13,410.2,811.31,410.83,814.49,412C817.67,413.17,820.85,417.2,824.03,417.2C827.21,417.2,830.39,401.17,833.57,397.7C836.76,394.23,839.94,393.37,843.12,392.5C846.3,391.63,849.48,391.2,852.66,391.2C855.84,391.2,859.02,403.98,862.2,410.7C865.39,417.42,868.57,425.2,871.75,431.5C874.93,437.8,878.11,448.5,881.29,448.5C884.47,448.5,887.65,447.63,890.83,445.9C894.02,444.17,897.2,432.1,900.38,432.1C903.56,432.1,906.74,434,909.92,435.4C913.1,436.8,916.28,438.82,919.46,440.5C922.65,442.18,925.83,445.5,929.01,445.5C932.19,445.5,935.37,408.58,938.55,396C941.73,383.42,944.91,370,948.09,370C951.28,370,954.46,427.37,957.64,444.2C960.82,461.03,964,471,967.18,471C970.36,471,973.54,450.7,976.72,450.7C979.91,450.7,983.09,473.3,986.27,473.3C989.45,473.3,992.63,450.8,995.81,450.8C998.99,450.8,1002.17,465.87,1005.35,470.2C1008.54,474.53,1011.72,476.8,1014.9,476.8C1018.08,476.8,1021.26,466.3,1024.44,466.3C1027.62,466.3,1030.8,471.5,1033.98,471.5C1037.17,471.5,1040.35,468.9,1043.53,463.7C1046.71,458.5,1049.89,439.5,1053.07,439.5C1056.25,439.5,1059.43,458.93,1062.61,462.4C1065.8,465.87,1068.98,467.6,1072.16,467.6C1075.34,467.6,1078.52,466.3,1081.7,466.3C1084.88,466.3,1088.06,481.83,1091.24,494.5C1094.43,507.17,1097.61,542.3,1100.79,542.3C1103.97,542.3,1107.15,520.1,1110.33,511.5C1113.51,502.9,1116.69,490.7,1119.87,490.7C1123.06,490.7,1126.24,493.17,1129.42,494.6C1132.6,496.03,1135.78,499.3,1138.96,499.3C1142.14,499.3,1145.32,486.3,1148.5,486.3C1151.69,486.3,1154.87,499.75,1158.05,507.6C1161.23,515.45,1164.41,533.4,1167.59,533.4C1170.77,533.4,1173.95,520.1,1177.13,520.1C1180.31,520.1,1183.5,525,1186.68,525C1189.86,525,1193.04,524.87,1196.22,524.6C1199.4,524.33,1202.58,514.1,1205.76,514.1C1208.94,514.1,1212.13,533.25,1215.31,538.9C1218.49,544.55,1221.67,548,1224.85,548C1228.03,548,1231.21,547.27,1234.39,546.7C1237.57,546.13,1240.76,545.55,1243.94,544.6C1247.12,543.65,1250.3,541,1253.48,541C1256.66,541,1259.84,557.2,1263.02,557.2C1266.2,557.2,1269.39,556.3,1272.57,554.5C1275.75,552.7,1278.93,544.25,1282.11,540C1285.29,535.75,1288.47,529,1291.65,529C1294.83,529,1298.02,541.07,1301.2,541.4C1304.38,541.73,1307.56,541.6,1310.74,541.9C1313.92,542.2,1317.1,543.2,1320.28,543.2C1323.46,543.2,1326.65,541.1,1329.83,541.1C1333.01,541.1,1336.19,553.25,1339.37,558.3C1342.55,563.35,1345.73,571.4,1348.91,571.4C1352.09,571.4,1355.28,566.02,1358.46,563.5C1361.64,560.98,1364.82,558.64,1368,556.3" fill="none" stroke="#999999" stroke-width="2"/>
<path d="M156,256.5C159.18,260.05,162.36,263.6,165.54,263.6C168.72,263.6,171.91,262.3,175.09,262.3C178.27,262.3,181.45,262.3,184.63,262.3C187.81,262.3,190.99,272.2,194.17,272.2C197.35,272.2,200.54,270,203.72,270C206.9,270,210.08,271.03,213.26,271.4C216.44,271.77,219.62,272.2,222.8,272.2C225.98,272.2,229.17,269,232.35,269C235.53,269,238.71,273.47,241.89,276.6C245.07,279.73,248.25,286.07,251.43,287.8C254.61,289.53,257.8,289.7,260.98,290.4C264.16,291.1,267.34,291.57,270.52,292C273.7,292.43,276.88,292.33,280.06,293C283.24,293.67,286.43,306.5,289.61,306.5C292.79,306.5,295.97,302.6,299.15,302.6C302.33,302.6,305.51,303.4,308.69,303.4C311.87,303.4,315.06,302.6,318.24,302.6C321.42,302.6,324.6,305.4,327.78,307.8C330.96,310.2,334.14,317,337.32,317C340.5,317,343.69,310.8,346.87,310.8C350.05,310.8,353.23,311.37,356.41,312.3C359.59,313.23,362.77,315.4,365.95,316.4C369.13,317.4,372.31,317.03,375.5,318.3C378.68,319.57,381.86,331.3,385.04,331.3C388.22,331.3,391.4,317.7,394.58,314.9C397.76,312.1,400.94,311.67,404.13,310.7C407.31,309.73,410.49,309.1,413.67,309.1C416.85,309.1,420.03,323.5,423.21,323.5C426.39,323.5,429.57,320.9,432.76,320.9C435.94,320.9,439.12,332,442.3,332C445.48,332,448.66,326.1,451.84,322.2C455.02,318.3,458.2,308.6,461.39,308.6C464.57,308.6,467.75,322.88,470.93,327.4C474.11,331.92,477.29,335.7,480.47,335.7C483.65,335.7,486.83,334.7,490.02,334.7C493.2,334.7,496.38,337.3,499.56,337.3C502.74,337.3,505.92,330.5,509.1,330.5C512.28,330.5,515.46,336.6,518.65,337.8C521.83,339,525.01,339.6,528.19,339.6C531.37,339.6,534.55,322.52,537.73,317C540.91,311.48,544.09,310.07,547.28,306.5C550.46,302.93,553.64,295.6,556.82,295.6C560,295.6,563.18,301.37,566.36,303.4C569.54,305.43,572.72,306.32,575.91,307.8C579.09,309.28,582.27,310.12,585.45,312.3C588.63,314.48,591.81,320.9,594.99,320.9C598.17,320.9,601.35,302.6,604.54,302.6C607.72,302.6,610.9,302.6,614.08,302.6C617.26,302.6,620.44,299.3,623.62,299.3C626.8,299.3,629.98,299.8,633.17,300.8C636.35,301.8,639.53,306.5,642.71,306.5C645.89,306.5,649.07,300.8,652.25,300.8C655.43,300.8,658.61,301.98,661.8,302.6C664.98,303.22,668.16,304.5,671.34,304.5C674.52,304.5,677.7,301.3,680.88,301.3C684.06,301.3,687.24,302.9,690.43,302.9C693.61,302.9,696.79,297.4,699.97,297.4C703.15,297.4,706.33,305.62,709.51,309.1C712.69,312.58,715.87,318.3,719.06,318.3C722.24,318.3,725.42,307.5,728.6,306.9C731.78,306.3,734.96,306,738.14,306C741.32,306,744.5,306.37,747.69,307.1C750.87,307.83,754.05,310.8,757.23,311.2C760.41,311.6,763.59,311.4,766.77,311.8C769.95,312.2,773.13,314.67,776.31,316.4C779.5,318.13,782.68,319.5,785.86,322.2C789.04,324.9,792.22,332.27,795.4,332.6C798.58,332.93,801.76,333.1,804.94,333.1C808.13,333.1,811.31,332.6,814.49,332.6C817.67,332.6,820.85,334.7,824.03,334.7C827.21,334.7,830.39,331.17,833.57,330.5C836.76,329.83,839.94,329.5,843.12,329.5C846.3,329.5,849.48,334.23,852.66,335.7C855.84,337.17,859.02,338.3,862.2,338.3C865.39,338.3,868.57,338.1,871.75,337.8C874.93,337.5,878.11,336.5,881.29,336.5C884.47,336.5,887.65,336.77,890.83,337.3C894.02,337.83,897.2,342.13,900.38,343C903.56,343.87,906.74,343.43,909.92,344.3C913.1,345.17,916.28,352.4,919.46,355C922.65,357.6,925.83,359.9,929.01,359.9C932.19,359.9,935.37,339.23,938.55,332.6C941.73,325.97,944.91,320.1,948.09,320.1C951.28,320.1,954.46,344.37,957.64,346.1C960.82,347.83,964,348.7,967.18,348.7C970.36,348.7,973.54,347.7,976.72,347.7C979.91,347.7,983.09,348.98,986.27,349.5C989.45,350.02,992.63,350.37,995.81,350.8C998.99,351.23,1002.17,351.23,1005.35,352.1C1008.54,352.97,1011.72,359.9,1014.9,359.9C1018.08,359.9,1021.26,351.3,1024.44,351.3C1027.62,351.3,1030.8,353.9,1033.98,353.9C1037.17,353.9,1040.35,353.73,1043.53,353.4C1046.71,353.07,1049.89,350.8,1053.07,350.8C1056.25,350.8,1059.43,356.37,1062.61,358.1C1065.8,359.83,1068.98,361.2,1072.16,361.2C1075.34,361.2,1078.52,358.6,1081.7,358.6C1084.88,358.6,1088.06,379.95,1091.24,395.1C1094.43,410.25,1097.61,449.5,1100.79,449.5C1103.97,449.5,1107.15,427.98,1110.33,420C1113.51,412.02,1116.69,401.6,1119.87,401.6C1123.06,401.6,1126.24,404.33,1129.42,405C1132.6,405.67,1135.78,406,1138.96,406C1142.14,406,1145.32,405.5,1148.5,405.5C1151.69,405.5,1154.87,414.52,1158.05,417.2C1161.23,419.88,1164.41,421.6,1167.59,421.6C1170.77,421.6,1173.95,414.7,1177.13,413.3C1180.31,411.9,1183.5,411.2,1186.68,411.2C1189.86,411.2,1193.04,421.1,1196.22,421.1C1199.4,421.1,1202.58,418.5,1205.76,418.5C1208.94,418.5,1212.13,421,1215.31,423.7C1218.49,426.4,1221.67,434.7,1224.85,434.7C1228.03,434.7,1231.21,425.18,1234.39,422.4C1237.57,419.62,1240.76,419.23,1243.94,418C1247.12,416.77,1250.3,415,1253.48,415C1256.66,415,1259.84,453.2,1263.02,453.6C1266.2,454,1269.39,454.2,1272.57,454.2C1275.75,454.2,1278.93,451.67,1282.11,450.2C1285.29,448.73,1288.47,445.4,1291.65,445.4C1294.83,445.4,1298.02,445.4,1301.2,445.4C1304.38,445.4,1307.56,431.9,1310.74,431.9C1313.92,431.9,1317.1,434.38,1320.28,435.6C1323.46,436.82,1326.65,436.8,1329.83,439.2C1333.01,441.6,1336.19,445.2,1339.37,450.3C1342.55,455.4,1345.73,466,1348.91,469.8C1352.09,473.6,1355.28,475.5,1358.46,475.5C1361.64,475.5,1364.82,473.15,1368,470.8L1368,556.3C1364.82,558.64,1361.64,560.98,1358.46,563.5C1355.28,566.02,1352.09,571.4,1348.91,571.4C1345.73,571.4,1342.55,563.35,1339.37,558.3C1336.19,553.25,1333.01,541.1,1329.83,541.1C1326.65,541.1,1323.46,543.2,1320.28,543.2C1317.1,543.2,1313.92,542.2,1310.74,541.9C1307.56,541.6,1304.38,541.73,1301.2,541.4C1298.02,541.07,1294.83,529,1291.65,529C1288.47,529,1285.29,535.75,1282.11,540C1278.93,544.25,1275.75,552.7,1272.57,554.5C1269.39,556.3,1266.2,557.2,1263.02,557.2C1259.84,557.2,1256.66,541,1253.48,541C1250.3,541,1247.12,543.65,1243.94,544.6C1240.76,545.55,1237.57,546.13,1234.39,546.7C1231.21,547.27,1228.03,548,1224.85,548C1221.67,548,1218.49,544.55,1215.31,538.9C1212.13,533.25,1208.94,514.1,1205.76,514.1C1202.58,514.1,1199.4,524.33,1196.22,524.6C1193.04,524.87,1189.86,525,1186.68,525C1183.5,525,1180.31,520.1,1177.13,520.1C1173.95,520.1,1170.77,533.4,1167.59,533.4C1164.41,533.4,1161.23,515.45,1158.05,507.6C1154.87,499.75,1151.69,486.3,1148.5,486.3C1145.32,486.3,1142.14,499.3,1138.96,499.3C1135.78,499.3,1132.6,496.03,1129.42,494.6C1126.24,493.17,1123.06,490.7,1119.87,490.7C1116.69,490.7,1113.51,502.9,1110.33,511.5C1107.15,520.1,1103.97,542.3,1100.79,542.3C1097.61,542.3,1094.43,507.17,1091.24,494.5C1088.06,481.83,1084.88,466.3,1081.7,466.3C1078.52,466.3,1075.34,467.6,1072.16,467.6C1068.98,467.6,1065.8,465.87,1062.61,462.4C1059.43,458.93,1056.25,439.5,1053.07,439.5C1049.89,439.5,1046.71,458.5,1043.53,463.7C1040.35,468.9,1037.17,471.5,1033.98,471.5C1030.8,471.5,1027.62,466.3,1024.44,466.3C1021.26,466.3,1018.08,476.8,1014.9,476.8C1011.72,476.8,1008.54,474.53,1005.35,470.2C1002.17,465.87,998.99,450.8,995.81,450.8C992.63,450.8,989.45,473.3,986.27,473.3C983.09,473.3,979.91,450.7,976.72,450.7C973.54,450.7,970.36,471,967.18,471C964,471,960.82,461.03,957.64,444.2C954.46,427.37,951.28,370,948.09,370C944.91,370,941.73,383.42,938.55,396C935.37,408.58,932.19,445.5,929.01,445.5C925.83,445.5,922.65,442.18,919.46,440.5C916.28,438.82,913.1,436.8,909.92,435.4C906.74,434,903.56,432.1,900.38,432.1C897.2,432.1,894.02,444.17,890.83,445.9C887.65,447.63,884.47,448.5,881.29,448.5C878.11,448.5,874.93,437.8,871.75,431.5C868.57,425.2,865.39,417.42,862.2,410.7C859.02,403.98,855.84,391.2,852.66,391.2C849.48,391.2,846.3,391.63,843.12,392.5C839.94,393.37,836.76,394.23,833.57,397.7C830.39,401.17,827.21,417.2,824.03,417.2C820.85,417.2,817.67,413.17,814.49,412C811.31,410.83,808.13,410.2,804.94,410.2C801.76,410.2,798.58,417.2,795.4,417.2C792.22,417.2,789.04,396.53,785.86,387.3C782.68,378.07,779.5,362.2,776.31,361.8C773.13,361.4,769.95,361.52,766.77,361.2C763.59,360.88,760.41,360.33,757.23,359.9C754.05,359.47,750.87,358.9,747.69,358.6C744.5,358.3,741.32,358.1,738.14,358.1C734.96,358.1,731.78,358.57,728.6,359.5C725.42,360.43,722.24,370,719.06,370C715.87,370,712.69,367.65,709.51,363.8C706.33,359.95,703.15,346.9,699.97,346.9C696.79,346.9,693.61,363.8,690.43,363.8C687.24,363.8,684.06,362.07,680.88,361.2C677.7,360.33,674.52,359.47,671.34,358.6C668.16,357.73,664.98,357.08,661.8,356C658.61,354.92,655.43,352.1,652.25,352.1C649.07,352.1,645.89,363.4,642.71,367C639.53,370.6,636.35,373.7,633.17,373.7C629.98,373.7,626.8,370.82,623.62,369.6C620.44,368.38,617.26,368.02,614.08,366.4C610.9,364.78,607.72,359.9,604.54,359.9C601.35,359.9,598.17,418.5,594.99,418.5C591.81,418.5,588.63,405.5,585.45,400.3C582.27,395.1,579.09,390.55,575.91,387.3C572.72,384.05,569.54,385.13,566.36,380.8C563.18,376.47,560,361.2,556.82,361.2C553.64,361.2,550.46,369.13,547.28,373.7C544.09,378.27,540.91,380.7,537.73,388.6C534.55,396.5,531.37,412.73,528.19,421.1C525.01,429.47,521.83,438.8,518.65,438.8C515.46,438.8,512.28,436.62,509.1,434.1C505.92,431.58,502.74,427.68,499.56,423.7C496.38,419.72,493.2,410.2,490.02,410.2C486.83,410.2,483.65,414.6,480.47,414.6C477.29,414.6,474.11,412,470.93,406.8C467.75,401.6,464.57,367,461.39,367C458.2,367,455.02,382.62,451.84,389.9C448.66,397.18,445.48,410.7,442.3,410.7C439.12,410.7,435.94,394.68,432.76,389.9C429.57,385.12,426.39,387.13,423.21,382C420.03,376.87,416.85,359.1,413.67,359.1C410.49,359.1,407.31,362.78,404.13,366.4C400.94,370.02,397.76,375.37,394.58,380.8C391.4,386.23,388.22,399,385.04,399C381.86,399,378.68,394.38,375.5,392C372.31,389.62,369.13,384.7,365.95,384.7C362.77,384.7,359.59,390.4,356.41,390.4C353.23,390.4,350.05,389.27,346.87,387C343.69,384.73,340.5,379.5,337.32,375C334.14,370.5,330.96,363.5,327.78,360C324.6,356.5,321.42,354,318.24,354C315.06,354,311.87,368.27,308.69,369.6C305.51,370.93,302.33,370.57,299.15,371.6C295.97,372.63,292.79,375.8,289.61,375.8C286.43,375.8,283.24,367,280.06,367C276.88,367,273.7,367,270.52,367C267.34,367,264.16,372.2,260.98,372.2C257.8,372.2,254.61,369.9,251.43,368.5C248.25,367.1,245.07,363.8,241.89,363.8C238.71,363.8,235.53,369.03,232.35,370.3C229.17,371.57,225.98,370.93,222.8,372.2C219.62,373.47,216.44,378.83,213.26,382C210.08,385.17,206.9,391.2,203.72,391.2C200.54,391.2,197.35,371,194.17,371C190.99,371,187.81,394.33,184.63,397C181.45,399.67,178.27,400.1,175.09,401C171.91,401.9,168.72,402.4,165.54,402.4C162.36,402.4,159.18,400.05,156,397.7Z" fill="#71b6dc" fill-opacity="0.585"/>
<path d="M156,256.5C159.18,260.05,162.36,263.6,165.54,263.6C168.72,263.6,171.91,262.3,175.09,262.3C178.27,262.3,181.45,262.3,184.63,262.3C187.81,262.3,190.99,272.2,194.17,272.2C197.35,272.2,200.54,270,203.72,270C206.9,270,210.08,271.03,213.26,271.4C216.44,271.77,219.62,272.2,222.8,272.2C225.98,272.2,229.17,269,232.35,269C235.53,269,238.71,273.47,241.89,276.6C245.07,279.73,248.25,286.07,251.43,287.8C254.61,289.53,257.8,289.7,260.98,290.4C264.16,291.1,267.34,291.57,270.52,292C273.7,292.43,276.88,292.33,280.06,293C283.24,293.67,286.43,306.5,289.61,306.5C292.79,306.5,295.97,302.6,299.15,302.6C302.33,302.6,305.51,303.4,308.69,303.4C311.87,303.4,315.06,302.6,318.24,302.6C321.42,302.6,324.6,305.4,327.78,307.8C330.96,310.2,334.14,317,337.32,317C340.5,317,343.69,310.8,346.87,310.8C350.05,310.8,353.23,311.37,356.41,312.3C359.59,313.23,362.77,315.4,365.95,316.4C369.13,317.4,372.31,317.03,375.5,318.3C378.68,319.57,381.86,331.3,385.04,331.3C388.22,331.3,391.4,317.7,394.58,314.9C397.76,312.1,400.94,311.67,404.13,310.7C407.31,309.73,410.49,309.1,413.67,309.1C416.85,309.1,420.03,323.5,423.21,323.5C426.39,323.5,429.57,320.9,432.76,320.9C435.94,320.9,439.12,332,442.3,332C445.48,332,448.66,326.1,451.84,322.2C455.02,318.3,458.2,308.6,461.39,308.6C464.57,308.6,467.75,322.88,470.93,327.4C474.11,331.92,477.29,335.7,480.47,335.7C483.65,335.7,486.83,334.7,490.02,334.7C493.2,334.7,496.38,337.3,499.56,337.3C502.74,337.3,505.92,330.5,509.1,330.5C512.28,330.5,515.46,336.6,518.65,337.8C521.83,339,525.01,339.6,528.19,339.6C531.37,339.6,534.55,322.52,537.73,317C540.91,311.48,544.09,310.07,547.28,306.5C550.46,302.93,553.64,295.6,556.82,295.6C560,295.6,563.18,301.37,566.36,303.4C569.54,305.43,572.72,306.32,575.91,307.8C579.09,309.28,582.27,310.12,585.45,312.3C588.63,314.48,591.81,320.9,594.99,320.9C598.17,320.9,601.35,302.6,604.54,302.6C607.72,302.6,610.9,302.6,614.08,302.6C617.26,302.6,620.44,299.3,623.62,299.3C626.8,299.3,629.98,299.8,633.17,300.8C636.35,301.8,639.53,306.5,642.71,306.5C645.89,306.5,649.07,300.8,652.25,300.8C655.43,300.8,658.61,301.98,661.8,302.6C664.98,303.22,668.16,304.5,671.34,304.5C674.52,304.5,677.7,301.3,680.88,301.3C684.06,301.3,687.24,302.9,690.43,302.9C693.61,302.9,696.79,297.4,699.97,297.4C703.15,297.4,706.33,305.62,709.51,309.1C712.69,312.58,715.87,318.3,719.06,318.3C722.24,318.3,725.42,307.5,728.6,306.9C731.78,306.3,734.96,306,738.14,306C741.32,306,744.5,306.37,747.69,307.1C750.87,307.83,754.05,310.8,757.23,311.2C760.41,311.6,763.59,311.4,766.77,311.8C769.95,312.2,773.13,314.67,776.31,316.4C779.5,318.13,782.68,319.5,785.86,322.2C789.04,324.9,792.22,332.27,795.4,332.6C798.58,332.93,801.76,333.1,804.94,333.1C808.13,333.1,811.31,332.6,814.49,332.6C817.67,332.6,820.85,334.7,824.03,334.7C827.21,334.7,830.39,331.17,833.57,330.5C836.76,329.83,839.94,329.5,843.12,329.5C846.3,329.5,849.48,334.23,852.66,335.7C855.84,337.17,859.02,338.3,862.2,338.3C865.39,338.3,868.57,338.1,871.75,337.8C874.93,337.5,878.11,336.5,881.29,336.5C884.47,336.5,887.65,336.77,890.83,337.3C894.02,337.83,897.2,342.13,900.38,343C903.56,343.87,906.74,343.43,909.92,344.3C913.1,345.17,916.28,352.4,919.46,355C922.65,357.6,925.83,359.9,929.01,359.9C932.19,359.9,935.37,339.23,938.55,332.6C941.73,325.97,944.91,320.1,948.09,320.1C951.28,320.1,954.46,344.37,957.64,346.1C960.82,347.83,964,348.7,967.18,348.7C970.36,348.7,973.54,347.7,976.72,347.7C979.91,347.7,983.09,348.98,986.27,349.5C989.45,350.02,992.63,350.37,995.81,350.8C998.99,351.23,1002.17,351.23,1005.35,352.1C1008.54,352.97,1011.72,359.9,1014.9,359.9C1018.08,359.9,1021.26,351.3,1024.44,351.3C1027.62,351.3,1030.8,353.9,1033.98,353.9C1037.17,353.9,1040.35,353.73,1043.53,353.4C1046.71,353.07,1049.89,350.8,1053.07,350.8C1056.25,350.8,1059.43,356.37,1062.61,358.1C1065.8,359.83,1068.98,361.2,1072.16,361.2C1075.34,361.2,1078.52,358.6,1081.7,358.6C1084.88,358.6,1088.06,379.95,1091.24,395.1C1094.43,410.25,1097.61,449.5,1100.79,449.5C1103.97,449.5,1107.15,427.98,1110.33,420C1113.51,412.02,1116.69,401.6,1119.87,401.6C1123.06,401.6,1126.24,404.33,1129.42,405C1132.6,405.67,1135.78,406,1138.96,406C1142.14,406,1145.32,405.5,1148.5,405.5C1151.69,405.5,1154.87,414.52,1158.05,417.2C1161.23,419.88,1164.41,421.6,1167.59,421.6C1170.77,421.6,1173.95,414.7,1177.13,413.3C1180.31,411.9,1183.5,411.2,1186.68,411.2C1189.86,411.2,1193.04,421.1,1196.22,421.1C1199.4,421.1,1202.58,418.5,1205.76,418.5C1208.94,418.5,1212.13,421,1215.31,423.7C1218.49,426.4,1221.67,434.7,1224.85,434.7C1228.03,434.7,1231.21,425.18,1234.39,422.4C1237.57,419.62,1240.76,419.23,1243.94,418C1247.12,416.77,1250.3,415,1253.48,415C1256.66,415,1259.84,453.2,1263.02,453.6C1266.2,454,1269.39,454.2,1272.57,454.2C1275.75,454.2,1278.93,451.67,1282.11,450.2C1285.29,448.73,1288.47,445.4,1291.65,445.4C1294.83,445.4,1298.02,445.4,1301.2,445.4C1304.38,445.4,1307.56,431.9,1310.74,431.9C1313.92,431.9,1317.1,434.38,1320.28,435.6C1323.46,436.82,1326.65,436.8,1329.83,439.2C1333.01,441.6,1336.19,445.2,1339.37,450.3C1342.55,455.4,1345.73,466,1348.91,469.8C1352.09,473.6,1355.28,475.5,1358.46,475.5C1361.64,475.5,1364.82,473.15,1368,470.8" fill="none" stroke="#71b6db" stroke-width="2"/>
<path d="M156,227.6C159.18,229.07,162.36,230.53,165.54,231C168.72,231.47,171.91,231.7,175.09,231.7C178.27,231.7,181.45,231.7,184.63,231.7C187.81,231.7,190.99,230,194.17,230C197.35,230,200.54,230.72,203.72,231C206.9,231.28,210.08,231.7,213.26,231.7C216.44,231.7,219.62,229.72,222.8,229C225.98,228.28,229.17,227.67,232.35,227.4C235.53,227.13,238.71,227,241.89,227C245.07,227,248.25,227,251.43,227C254.61,227,257.8,227.13,260.98,227.4C264.16,227.67,267.34,228.67,270.52,229C273.7,229.33,276.88,229.5,280.06,229.5C283.24,229.5,286.43,229.18,289.61,229C292.79,228.82,295.97,228.4,299.15,228.4C302.33,228.4,305.51,228.4,308.69,228.4C311.87,228.4,315.06,228.73,318.24,229C321.42,229.27,324.6,230,327.78,230C330.96,230,334.14,229.3,337.32,229C340.5,228.7,343.69,228.2,346.87,228.2C350.05,228.2,353.23,228.75,356.41,229C359.59,229.25,362.77,229.7,365.95,229.7C369.13,229.7,372.31,229.7,375.5,229.7C378.68,229.7,381.86,229.5,385.04,229.5C388.22,229.5,391.4,229.7,394.58,229.7C397.76,229.7,400.94,229.63,404.13,229.5C407.31,229.37,410.49,228.4,413.67,228.4C416.85,228.4,420.03,228.87,423.21,229C426.39,229.13,429.57,229.2,432.76,229.2C435.94,229.2,439.12,229,442.3,229C445.48,229,448.66,229.2,451.84,229.2C455.02,229.2,458.2,229,461.39,229C464.57,229,467.75,232.3,470.93,232.3C474.11,232.3,477.29,231,480.47,231C483.65,231,486.83,231.68,490.02,232.3C493.2,232.92,496.38,234.13,499.56,234.7C502.74,235.27,505.92,235.35,509.1,235.7C512.28,236.05,515.46,236.45,518.65,236.8C521.83,237.15,525.01,237.8,528.19,237.8C531.37,237.8,534.55,234.27,537.73,234.2C540.91,234.13,544.09,234.1,547.28,234.1C550.46,234.1,553.64,234.43,556.82,234.7C560,234.97,563.18,235.45,566.36,235.7C569.54,235.95,572.72,236.2,575.91,236.2C579.09,236.2,582.27,235.7,585.45,235.7C588.63,235.7,591.81,235.7,594.99,235.7C598.17,235.7,601.35,232.6,604.54,232.6C607.72,232.6,610.9,233.1,614.08,233.1C617.26,233.1,620.44,232.6,623.62,232.6C626.8,232.6,629.98,233.1,633.17,233.1C636.35,233.1,639.53,233.1,642.71,233.1C645.89,233.1,649.07,232.1,652.25,232.1C655.43,232.1,658.61,232.6,661.8,232.6C664.98,232.6,668.16,232.6,671.34,232.6C674.52,232.6,677.7,233.25,680.88,233.6C684.06,233.95,687.24,234.7,690.43,234.7C693.61,234.7,696.79,233.1,699.97,233.1C703.15,233.1,706.33,234.7,709.51,234.7C712.69,234.7,715.87,234.23,719.06,234.1C722.24,233.97,725.42,233.9,728.6,233.9C731.78,233.9,734.96,234.48,738.14,234.7C741.32,234.92,744.5,234.87,747.69,235.2C750.87,235.53,754.05,236.8,757.23,236.8C760.41,236.8,763.59,236.2,766.77,236.2C769.95,236.2,773.13,236.4,776.31,236.8C779.5,237.2,782.68,238.02,785.86,240.1C789.04,242.18,792.22,249.3,795.4,249.3C798.58,249.3,801.76,248,804.94,248C808.13,248,811.31,255.8,814.49,255.8C817.67,255.8,820.85,254.9,824.03,253.9C827.21,252.9,830.39,250.75,833.57,249.8C836.76,248.85,839.94,248.2,843.12,248.2C846.3,248.2,849.48,249.18,852.66,249.8C855.84,250.42,859.02,251.38,862.2,251.9C865.39,252.42,868.57,252.57,871.75,252.9C874.93,253.23,878.11,253.63,881.29,253.9C884.47,254.17,887.65,254.1,890.83,254.5C894.02,254.9,897.2,256.45,900.38,257.1C903.56,257.75,906.74,258.4,909.92,258.4C913.1,258.4,916.28,255,919.46,255C922.65,255,925.83,259.1,929.01,259.1C932.19,259.1,935.37,251.22,938.55,248.7C941.73,246.18,944.91,244,948.09,244C951.28,244,954.46,254.47,957.64,255C960.82,255.53,964,255.8,967.18,255.8C970.36,255.8,973.54,252.4,976.72,252.4C979.91,252.4,983.09,255,986.27,255C989.45,255,992.63,255,995.81,255C998.99,255,1002.17,256.5,1005.35,257.1C1008.54,257.7,1011.72,258.6,1014.9,258.6C1018.08,258.6,1021.26,257.6,1024.44,257.6C1027.62,257.6,1030.8,259.1,1033.98,259.1C1037.17,259.1,1040.35,258.73,1043.53,258.4C1046.71,258.07,1049.89,257.1,1053.07,257.1C1056.25,257.1,1059.43,261.42,1062.61,262.8C1065.8,264.18,1068.98,265.4,1072.16,265.4C1075.34,265.4,1078.52,264.9,1081.7,264.9C1084.88,264.9,1088.06,277.53,1091.24,293.5C1094.43,309.47,1097.61,360.7,1100.79,360.7C1103.97,360.7,1107.15,339.12,1110.33,330C1113.51,320.88,1116.69,306,1119.87,306C1123.06,306,1126.24,307.8,1129.42,307.8C1132.6,307.8,1135.78,304.57,1138.96,303.4C1142.14,302.23,1145.32,300.8,1148.5,300.8C1151.69,300.8,1154.87,307.2,1158.05,308.6C1161.23,310,1164.41,310.7,1167.59,310.7C1170.77,310.7,1173.95,310.13,1177.13,309.7C1180.31,309.27,1183.5,308.1,1186.68,308.1C1189.86,308.1,1193.04,311.8,1196.22,311.8C1199.4,311.8,1202.58,309.7,1205.76,309.7C1208.94,309.7,1212.13,315.27,1215.31,319.6C1218.49,323.93,1221.67,335.7,1224.85,335.7C1228.03,335.7,1231.21,324.8,1234.39,322.2C1237.57,319.6,1240.76,319.42,1243.94,318.3C1247.12,317.18,1250.3,315.5,1253.48,315.5C1256.66,315.5,1259.84,354.7,1263.02,354.7C1266.2,354.7,1269.39,352.97,1272.57,352.1C1275.75,351.23,1278.93,350.67,1282.11,349.5C1285.29,348.33,1288.47,345.1,1291.65,345.1C1294.83,345.1,1298.02,345.6,1301.2,345.6C1304.38,345.6,1307.56,335.7,1310.74,335.7C1313.92,335.7,1317.1,336.23,1320.28,337.3C1323.46,338.37,1326.65,339.82,1329.83,342.5C1333.01,345.18,1336.19,350.28,1339.37,353.4C1342.55,356.52,1345.73,361.2,1348.91,361.2C1352.09,361.2,1355.28,361.2,1358.46,361.2C1361.64,361.2,1364.82,360.55,1368,359.9L1368,470.8C1364.82,473.15,1361.64,475.5,1358.46,475.5C1355.28,475.5,1352.09,473.6,1348.91,469.8C1345.73,466,1342.55,455.4,1339.37,450.3C1336.19,445.2,1333.01,441.6,1329.83,439.2C1326.65,436.8,1323.46,436.82,1320.28,435.6C1317.1,434.38,1313.92,431.9,1310.74,431.9C1307.56,431.9,1304.38,445.4,1301.2,445.4C1298.02,445.4,1294.83,445.4,1291.65,445.4C1288.47,445.4,1285.29,448.73,1282.11,450.2C1278.93,451.67,1275.75,454.2,1272.57,454.2C1269.39,454.2,1266.2,454,1263.02,453.6C1259.84,453.2,1256.66,415,1253.48,415C1250.3,415,1247.12,416.77,1243.94,418C1240.76,419.23,1237.57,419.62,1234.39,422.4C1231.21,425.18,1228.03,434.7,1224.85,434.7C1221.67,434.7,1218.49,426.4,1215.31,423.7C1212.13,421,1208.94,418.5,1205.76,418.5C1202.58,418.5,1199.4,421.1,1196.22,421.1C1193.04,421.1,1189.86,411.2,1186.68,411.2C1183.5,411.2,1180.31,411.9,1177.13,413.3C1173.95,414.7,1170.77,421.6,1167.59,421.6C1164.41,421.6,1161.23,419.88,1158.05,417.2C1154.87,414.52,1151.69,405.5,1148.5,405.5C1145.32,405.5,1142.14,406,1138.96,406C1135.78,406,1132.6,405.67,1129.42,405C1126.24,404.33,1123.06,401.6,1119.87,401.6C1116.69,401.6,1113.51,412.02,1110.33,420C1107.15,427.98,1103.97,449.5,1100.79,449.5C1097.61,449.5,1094.43,410.25,1091.24,395.1C1088.06,379.95,1084.88,358.6,1081.7,358.6C1078.52,358.6,1075.34,361.2,1072.16,361.2C1068.98,361.2,1065.8,359.83,1062.61,358.1C1059.43,356.37,1056.25,350.8,1053.07,350.8C1049.89,350.8,1046.71,353.07,1043.53,353.4C1040.35,353.73,1037.17,353.9,1033.98,353.9C1030.8,353.9,1027.62,351.3,1024.44,351.3C1021.26,351.3,1018.08,359.9,1014.9,359.9C1011.72,359.9,1008.54,352.97,1005.35,352.1C1002.17,351.23,998.99,351.23,995.81,350.8C992.63,350.37,989.45,350.02,986.27,349.5C983.09,348.98,979.91,347.7,976.72,347.7C973.54,347.7,970.36,348.7,967.18,348.7C964,348.7,960.82,347.83,957.64,346.1C954.46,344.37,951.28,320.1,948.09,320.1C944.91,320.1,941.73,325.97,938.55,332.6C935.37,339.23,932.19,359.9,929.01,359.9C925.83,359.9,922.65,357.6,919.46,355C916.28,352.4,913.1,345.17,909.92,344.3C906.74,343.43,903.56,343.87,900.38,343C897.2,342.13,894.02,337.83,890.83,337.3C887.65,336.77,884.47,336.5,881.29,336.5C878.11,336.5,874.93,337.5,871.75,337.8C868.57,338.1,865.39,338.3,862.2,338.3C859.02,338.3,855.84,337.17,852.66,335.7C849.48,334.23,846.3,329.5,843.12,329.5C839.94,329.5,836.76,329.83,833.57,330.5C830.39,331.17,827.21,334.7,824.03,334.7C820.85,334.7,817.67,332.6,814.49,332.6C811.31,332.6,808.13,333.1,804.94,333.1C801.76,333.1,798.58,332.93,795.4,332.6C792.22,332.27,789.04,324.9,785.86,322.2C782.68,319.5,779.5,318.13,776.31,316.4C773.13,314.67,769.95,312.2,766.77,311.8C763.59,311.4,760.41,311.6,757.23,311.2C754.05,310.8,750.87,307.83,747.69,307.1C744.5,306.37,741.32,306,738.14,306C734.96,306,731.78,306.3,728.6,306.9C725.42,307.5,722.24,318.3,719.06,318.3C715.87,318.3,712.69,312.58,709.51,309.1C706.33,305.62,703.15,297.4,699.97,297.4C696.79,297.4,693.61,302.9,690.43,302.9C687.24,302.9,684.06,301.3,680.88,301.3C677.7,301.3,674.52,304.5,671.34,304.5C668.16,304.5,664.98,303.22,661.8,302.6C658.61,301.98,655.43,300.8,652.25,300.8C649.07,300.8,645.89,306.5,642.71,306.5C639.53,306.5,636.35,301.8,633.17,300.8C629.98,299.8,626.8,299.3,623.62,299.3C620.44,299.3,617.26,302.6,614.08,302.6C610.9,302.6,607.72,302.6,604.54,302.6C601.35,302.6,598.17,320.9,594.99,320.9C591.81,320.9,588.63,314.48,585.45,312.3C582.27,310.12,579.09,309.28,575.91,307.8C572.72,306.32,569.54,305.43,566.36,303.4C563.18,301.37,560,295.6,556.82,295.6C553.64,295.6,550.46,302.93,547.28,306.5C544.09,310.07,540.91,311.48,537.73,317C534.55,322.52,531.37,339.6,528.19,339.6C525.01,339.6,521.83,339,518.65,337.8C515.46,336.6,512.28,330.5,509.1,330.5C505.92,330.5,502.74,337.3,499.56,337.3C496.38,337.3,493.2,334.7,490.02,334.7C486.83,334.7,483.65,335.7,480.47,335.7C477.29,335.7,474.11,331.92,470.93,327.4C467.75,322.88,464.57,308.6,461.39,308.6C458.2,308.6,455.02,318.3,451.84,322.2C448.66,326.1,445.48,332,442.3,332C439.12,332,435.94,320.9,432.76,320.9C429.57,320.9,426.39,323.5,423.21,323.5C420.03,323.5,416.85,309.1,413.67,309.1C410.49,309.1,407.31,309.73,404.13,310.7C400.94,311.67,397.76,312.1,394.58,314.9C391.4,317.7,388.22,331.3,385.04,331.3C381.86,331.3,378.68,319.57,375.5,318.3C372.31,317.03,369.13,317.4,365.95,316.4C362.77,315.4,359.59,313.23,356.41,312.3C353.23,311.37,350.05,310.8,346.87,310.8C343.69,310.8,340.5,317,337.32,317C334.14,317,330.96,310.2,327.78,307.8C324.6,305.4,321.42,302.6,318.24,302.6C315.06,302.6,311.87,303.4,308.69,303.4C305.51,303.4,302.33,302.6,299.15,302.6C295.97,302.6,292.79,306.5,289.61,306.5C286.43,306.5,283.24,293.67,280.06,293C276.88,292.33,273.7,292.43,270.52,292C267.34,291.57,264.16,291.1,260.98,290.4C257.8,289.7,254.61,289.53,251.43,287.8C248.25,286.07,245.07,279.73,241.89,276.6C238.71,273.47,235.53,269,232.35,269C229.17,269,225.98,272.2,222.8,272.2C219.62,272.2,216.44,271.77,213.26,271.4C210.08,271.03,206.9,270,203.72,270C200.54,270,197.35,272.2,194.17,272.2C190.99,272.2,187.81,262.3,184.63,262.3C181.45,262.3,178.27,262.3,175.09,262.3C171.91,262.3,168.72,263.6,165.54,263.6C162.36,263.6,159.18,260.05,156,256.5Z" fill="#2356c6" fill-opacity="0.585"/>
<path d="M156,227.6C159.18,229.07,162.36,230.53,165.54,231C168.72,231.47,171.91,231.7,175.09,231.7C178.27,231.7,181.45,231.7,184.63,231.7C187.81,231.7,190.99,230,194.17,230C197.35,230,200.54,230.72,203.72,231C206.9,231.28,210.08,231.7,213.26,231.7C216.44,231.7,219.62,229.72,222.8,229C225.98,228.28,229.17,227.67,232.35,227.4C235.53,227.13,238.71,227,241.89,227C245.07,227,248.25,227,251.43,227C254.61,227,257.8,227.13,260.98,227.4C264.16,227.67,267.34,228.67,270.52,229C273.7,229.33,276.88,229.5,280.06,229.5C283.24,229.5,286.43,229.18,289.61,229C292.79,228.82,295.97,228.4,299.15,228.4C302.33,228.4,305.51,228.4,308.69,228.4C311.87,228.4,315.06,228.73,318.24,229C321.42,229.27,324.6,230,327.78,230C330.96,230,334.14,229.3,337.32,229C340.5,228.7,343.69,228.2,346.87,228.2C350.05,228.2,353.23,228.75,356.41,229C359.59,229.25,362.77,229.7,365.95,229.7C369.13,229.7,372.31,229.7,375.5,229.7C378.68,229.7,381.86,229.5,385.04,229.5C388.22,229.5,391.4,229.7,394.58,229.7C397.76,229.7,400.94,229.63,404.13,229.5C407.31,229.37,410.49,228.4,413.67,228.4C416.85,228.4,420.03,228.87,423.21,229C426.39,229.13,429.57,229.2,432.76,229.2C435.94,229.2,439.12,229,442.3,229C445.48,229,448.66,229.2,451.84,229.2C455.02,229.2,458.2,229,461.39,229C464.57,229,467.75,232.3,470.93,232.3C474.11,232.3,477.29,231,480.47,231C483.65,231,486.83,231.68,490.02,232.3C493.2,232.92,496.38,234.13,499.56,234.7C502.74,235.27,505.92,235.35,509.1,235.7C512.28,236.05,515.46,236.45,518.65,236.8C521.83,237.15,525.01,237.8,528.19,237.8C531.37,237.8,534.55,234.27,537.73,234.2C540.91,234.13,544.09,234.1,547.28,234.1C550.46,234.1,553.64,234.43,556.82,234.7C560,234.97,563.18,235.45,566.36,235.7C569.54,235.95,572.72,236.2,575.91,236.2C579.09,236.2,582.27,235.7,585.45,235.7C588.63,235.7,591.81,235.7,594.99,235.7C598.17,235.7,601.35,232.6,604.54,232.6C607.72,232.6,610.9,233.1,614.08,233.1C617.26,233.1,620.44,232.6,623.62,232.6C626.8,232.6,629.98,233.1,633.17,233.1C636.35,233.1,639.53,233.1,642.71,233.1C645.89,233.1,649.07,232.1,652.25,232.1C655.43,232.1,658.61,232.6,661.8,232.6C664.98,232.6,668.16,232.6,671.34,232.6C674.52,232.6,677.7,233.25,680.88,233.6C684.06,233.95,687.24,234.7,690.43,234.7C693.61,234.7,696.79,233.1,699.97,233.1C703.15,233.1,706.33,234.7,709.51,234.7C712.69,234.7,715.87,234.23,719.06,234.1C722.24,233.97,725.42,233.9,728.6,233.9C731.78,233.9,734.96,234.48,738.14,234.7C741.32,234.92,744.5,234.87,747.69,235.2C750.87,235.53,754.05,236.8,757.23,236.8C760.41,236.8,763.59,236.2,766.77,236.2C769.95,236.2,773.13,236.4,776.31,236.8C779.5,237.2,782.68,238.02,785.86,240.1C789.04,242.18,792.22,249.3,795.4,249.3C798.58,249.3,801.76,248,804.94,248C808.13,248,811.31,255.8,814.49,255.8C817.67,255.8,820.85,254.9,824.03,253.9C827.21,252.9,830.39,250.75,833.57,249.8C836.76,248.85,839.94,248.2,843.12,248.2C846.3,248.2,849.48,249.18,852.66,249.8C855.84,250.42,859.02,251.38,862.2,251.9C865.39,252.42,868.57,252.57,871.75,252.9C874.93,253.23,878.11,253.63,881.29,253.9C884.47,254.17,887.65,254.1,890.83,254.5C894.02,254.9,897.2,256.45,900.38,257.1C903.56,257.75,906.74,258.4,909.92,258.4C913.1,258.4,916.28,255,919.46,255C922.65,255,925.83,259.1,929.01,259.1C932.19,259.1,935.37,251.22,938.55,248.7C941.73,246.18,944.91,244,948.09,244C951.28,244,954.46,254.47,957.64,255C960.82,255.53,964,255.8,967.18,255.8C970.36,255.8,973.54,252.4,976.72,252.4C979.91,252.4,983.09,255,986.27,255C989.45,255,992.63,255,995.81,255C998.99,255,1002.17,256.5,1005.35,257.1C1008.54,257.7,1011.72,258.6,1014.9,258.6C1018.08,258.6,1021.26,257.6,1024.44,257.6C1027.62,257.6,1030.8,259.1,1033.98,259.1C1037.17,259.1,1040.35,258.73,1043.53,258.4C1046.71,258.07,1049.89,257.1,1053.07,257.1C1056.25,257.1,1059.43,261.42,1062.61,262.8C1065.8,264.18,1068.98,265.4,1072.16,265.4C1075.34,265.4,1078.52,264.9,1081.7,264.9C1084.88,264.9,1088.06,277.53,1091.24,293.5C1094.43,309.47,1097.61,360.7,1100.79,360.7C1103.97,360.7,1107.15,339.12,1110.33,330C1113.51,320.88,1116.69,306,1119.87,306C1123.06,306,1126.24,307.8,1129.42,307.8C1132.6,307.8,1135.78,304.57,1138.96,303.4C1142.14,302.23,1145.32,300.8,1148.5,300.8C1151.69,300.8,1154.87,307.2,1158.05,308.6C1161.23,310,1164.41,310.7,1167.59,310.7C1170.77,310.7,1173.95,310.13,1177.13,309.7C1180.31,309.27,1183.5,308.1,1186.68,308.1C1189.86,308.1,1193.04,311.8,1196.22,311.8C1199.4,311.8,1202.58,309.7,1205.76,309.7C1208.94,309.7,1212.13,315.27,1215.31,319.6C1218.49,323.93,1221.67,335.7,1224.85,335.7C1228.03,335.7,1231.21,324.8,1234.39,322.2C1237.57,319.6,1240.76,319.42,1243.94,318.3C1247.12,317.18,1250.3,315.5,1253.48,315.5C1256.66,315.5,1259.84,354.7,1263.02,354.7C1266.2,354.7,1269.39,352.97,1272.57,352.1C1275.75,351.23,1278.93,350.67,1282.11,349.5C1285.29,348.33,1288.47,345.1,1291.65,345.1C1294.83,345.1,1298.02,345.6,1301.2,345.6C1304.38,345.6,1307.56,335.7,1310.74,335.7C1313.92,335.7,1317.1,336.23,1320.28,337.3C1323.46,338.37,1326.65,339.82,1329.83,342.5C1333.01,345.18,1336.19,350.28,1339.37,353.4C1342.55,356.52,1345.73,361.2,1348.91,361.2C1352.09,361.2,1355.28,361.2,1358.46,361.2C1361.64,361.2,1364.82,360.55,1368,359.9" fill="none" stroke="#2356c6" stroke-width="2"/>
<path d="M156,223C159.18,223,162.36,223,165.54,223C168.72,223,171.91,223,175.09,223C178.27,223,181.45,223,184.63,223C187.81,223,190.99,223,194.17,223C197.35,223,200.54,223,203.72,223C206.9,223,210.08,223,213.26,223C216.44,223,219.62,223,222.8,223C225.98,223,229.17,223,232.35,223C235.53,223,238.71,223,241.89,223C245.07,223,248.25,223,251.43,223C254.61,223,257.8,223,260.98,223C264.16,223,267.34,223,270.52,223C273.7,223,276.88,223,280.06,223C283.24,223,286.43,223,289.61,223C292.79,223,295.97,223,299.15,223C302.33,223,305.51,223,308.69,223C311.87,223,315.06,223,318.24,223C321.42,223,324.6,223,327.78,223C330.96,223,334.14,223,337.32,223C340.5,223,343.69,223,346.87,223C350.05,223,353.23,223,356.41,223C359.59,223,362.77,223,365.95,223C369.13,223,372.31,223,375.5,223C378.68,223,381.86,223,385.04,223C388.22,223,391.4,223,394.58,223C397.76,223,400.94,223,404.13,223C407.31,223,410.49,223,413.67,223C416.85,223,420.03,223,423.21,223C426.39,223,429.57,223,432.76,223C435.94,223,439.12,223,442.3,223C445.48,223,448.66,223,451.84,223C455.02,223,458.2,223,461.39,223C464.57,223,467.75,223,470.93,223C474.11,223,477.29,223,480.47,223C483.65,223,486.83,223,490.02,223C493.2,223,496.38,223,499.56,223C502.74,223,505.92,223,509.1,223C512.28,223,515.46,223,518.65,223C521.83,223,525.01,223,528.19,223C531.37,223,534.55,223,537.73,223C540.91,223,544.09,223,547.28,223C550.46,223,553.64,223,556.82,223C560,223,563.18,223,566.36,223C569.54,223,572.72,223,575.91,223C579.09,223,582.27,223,585.45,223C588.63,223,591.81,223,594.99,223C598.17,223,601.35,223,604.54,223C607.72,223,610.9,223,614.08,223C617.26,223,620.44,223,623.62,223C626.8,223,629.98,223,633.17,223C636.35,223,639.53,223,642.71,223C645.89,223,649.07,223,652.25,223C655.43,223,658.61,223,661.8,223C664.98,223,668.16,223,671.34,223C674.52,223,677.7,223,680.88,223C684.06,223,687.24,223,690.43,223C693.61,223,696.79,223,699.97,223C703.15,223,706.33,223,709.51,223C712.69,223,715.87,223,719.06,223C722.24,223,725.42,223,728.6,223C731.78,223,734.96,223,738.14,223C741.32,223,744.5,223,747.69,223C750.87,223,754.05,223,757.23,223C760.41,223,763.59,223,766.77,223C769.95,223,773.13,223,776.31,223C779.5,223,782.68,223,785.86,223C789.04,223,792.22,223,795.4,223C798.58,223,801.76,223,804.94,223C808.13,223,811.31,223,814.49,223C817.67,223,820.85,223,824.03,223C827.21,223,830.39,223,833.57,223C836.76,223,839.94,223,843.12,223C846.3,223,849.48,223,852.66,223C855.84,223,859.02,223,862.2,223C865.39,223,868.57,223,871.75,223C874.93,223,878.11,223,881.29,223C884.47,223,887.65,223,890.83,223C894.02,223,897.2,223,900.38,223C903.56,223,906.74,223,909.92,223C913.1,223,916.28,223,919.46,223C922.65,223,925.83,223,929.01,223C932.19,223,935.37,223,938.55,223C941.73,223,944.91,223,948.09,223C951.28,223,954.46,223,957.64,223C960.82,223,964,223,967.18,223C970.36,223,973.54,223,976.72,223C979.91,223,983.09,223,986.27,223C989.45,223,992.63,223,995.81,223C998.99,223,1002.17,223,1005.35,223C1008.54,223,1011.72,223,1014.9,223C1018.08,223,1021.26,223,1024.44,223C1027.62,223,1030.8,223,1033.98,223C1037.17,223,1040.35,223,1043.53,223C1046.71,223,1049.89,223,1053.07,223C1056.25,223,1059.43,223,1062.61,223C1065.8,223,1068.98,223,1072.16,223C1075.34,223,1078.52,223,1081.7,223C1084.88,223,1088.06,223,1091.24,223C1094.43,223,1097.61,223,1100.79,223C1103.97,223,1107.15,223,1110.33,223C1113.51,223,1116.69,223,1119.87,223C1123.06,223,1126.24,223,1129.42,223C1132.6,223,1135.78,223,1138.96,223C1142.14,223,1145.32,223,1148.5,223C1151.69,223,1154.87,223,1158.05,223C1161.23,223,1164.41,223,1167.59,223C1170.77,223,1173.95,223,1177.13,223C1180.31,223,1183.5,223,1186.68,223C1189.86,223,1193.04,223,1196.22,223C1199.4,223,1202.58,223,1205.76,223C1208.94,223,1212.13,223,1215.31,223C1218.49,223,1221.67,223,1224.85,223C1228.03,223,1231.21,223,1234.39,223C1237.57,223,1240.76,223,1243.94,223C1247.12,223,1250.3,223,1253.48,223C1256.66,223,1259.84,223,1263.02,223C1266.2,223,1269.39,223,1272.57,223C1275.75,223,1278.93,223,1282.11,223C1285.29,223,1288.47,223,1291.65,223C1294.83,223,1298.02,223,1301.2,223C1304.38,223,1307.56,223,1310.74,223C1313.92,223,1317.1,223,1320.28,223C1323.46,223,1326.65,223,1329.83,223C1333.01,223,1336.19,223,1339.37,223C1342.55,223,1345.73,223,1348.91,223C1352.09,223,1355.28,223,1358.46,223C1361.64,223,1364.82,223,1368,223L1368,359.9C1364.82,360.55,1361.64,361.2,1358.46,361.2C1355.28,361.2,1352.09,361.2,1348.91,361.2C1345.73,361.2,1342.55,356.52,1339.37,353.4C1336.19,350.28,1333.01,345.18,1329.83,342.5C1326.65,339.82,1323.46,338.37,1320.28,337.3C1317.1,336.23,1313.92,335.7,1310.74,335.7C1307.56,335.7,1304.38,345.6,1301.2,345.6C1298.02,345.6,1294.83,345.1,1291.65,345.1C1288.47,345.1,1285.29,348.33,1282.11,349.5C1278.93,350.67,1275.75,351.23,1272.57,352.1C1269.39,352.97,1266.2,354.7,1263.02,354.7C1259.84,354.7,1256.66,315.5,1253.48,315.5C1250.3,315.5,1247.12,317.18,1243.94,318.3C1240.76,319.42,1237.57,319.6,1234.39,322.2C1231.21,324.8,1228.03,335.7,1224.85,335.7C1221.67,335.7,1218.49,323.93,1215.31,319.6C1212.13,315.27,1208.94,309.7,1205.76,309.7C1202.58,309.7,1199.4,311.8,1196.22,311.8C1193.04,311.8,1189.86,308.1,1186.68,308.1C1183.5,308.1,1180.31,309.27,1177.13,309.7C1173.95,310.13,1170.77,310.7,1167.59,310.7C1164.41,310.7,1161.23,310,1158.05,308.6C1154.87,307.2,1151.69,300.8,1148.5,300.8C1145.32,300.8,1142.14,302.23,1138.96,303.4C1135.78,304.57,1132.6,307.8,1129.42,307.8C1126.24,307.8,1123.06,306,1119.87,306C1116.69,306,1113.51,320.88,1110.33,330C1107.15,339.12,1103.97,360.7,1100.79,360.7C1097.61,360.7,1094.43,309.47,1091.24,293.5C1088.06,277.53,1084.88,264.9,1081.7,264.9C1078.52,264.9,1075.34,265.4,1072.16,265.4C1068.98,265.4,1065.8,264.18,1062.61,262.8C1059.43,261.42,1056.25,257.1,1053.07,257.1C1049.89,257.1,1046.71,258.07,1043.53,258.4C1040.35,258.73,1037.17,259.1,1033.98,259.1C1030.8,259.1,1027.62,257.6,1024.44,257.6C1021.26,257.6,1018.08,258.6,1014.9,258.6C1011.72,258.6,1008.54,257.7,1005.35,257.1C1002.17,256.5,998.99,255,995.81,255C992.63,255,989.45,255,986.27,255C983.09,255,979.91,252.4,976.72,252.4C973.54,252.4,970.36,255.8,967.18,255.8C964,255.8,960.82,255.53,957.64,255C954.46,254.47,951.28,244,948.09,244C944.91,244,941.73,246.18,938.55,248.7C935.37,251.22,932.19,259.1,929.01,259.1C925.83,259.1,922.65,255,919.46,255C916.28,255,913.1,258.4,909.92,258.4C906.74,258.4,903.56,257.75,900.38,257.1C897.2,256.45,894.02,254.9,890.83,254.5C887.65,254.1,884.47,254.17,881.29,253.9C878.11,253.63,874.93,253.23,871.75,252.9C868.57,252.57,865.39,252.42,862.2,251.9C859.02,251.38,855.84,250.42,852.66,249.8C849.48,249.18,846.3,248.2,843.12,248.2C839.94,248.2,836.76,248.85,833.57,249.8C830.39,250.75,827.21,252.9,824.03,253.9C820.85,254.9,817.67,255.8,814.49,255.8C811.31,255.8,808.13,248,804.94,248C801.76,248,798.58,249.3,795.4,249.3C792.22,249.3,789.04,242.18,785.86,240.1C782.68,238.02,779.5,237.2,776.31,236.8C773.13,236.4,769.95,236.2,766.77,236.2C763.59,236.2,760.41,236.8,757.23,236.8C754.05,236.8,750.87,235.53,747.69,235.2C744.5,234.87,741.32,234.92,738.14,234.7C734.96,234.48,731.78,233.9,728.6,233.9C725.42,233.9,722.24,233.97,719.06,234.1C715.87,234.23,712.69,234.7,709.51,234.7C706.33,234.7,703.15,233.1,699.97,233.1C696.79,233.1,693.61,234.7,690.43,234.7C687.24,234.7,684.06,233.95,680.88,233.6C677.7,233.25,674.52,232.6,671.34,232.6C668.16,232.6,664.98,232.6,661.8,232.6C658.61,232.6,655.43,232.1,652.25,232.1C649.07,232.1,645.89,233.1,642.71,233.1C639.53,233.1,636.35,233.1,633.17,233.1C629.98,233.1,626.8,232.6,623.62,232.6C620.44,232.6,617.26,233.1,614.08,233.1C610.9,233.1,607.72,232.6,604.54,232.6C601.35,232.6,598.17,235.7,594.99,235.7C591.81,235.7,588.63,235.7,585.45,235.7C582.27,235.7,579.09,236.2,575.91,236.2C572.72,236.2,569.54,235.95,566.36,235.7C563.18,235.45,560,234.97,556.82,234.7C553.64,234.43,550.46,234.1,547.28,234.1C544.09,234.1,540.91,234.13,537.73,234.2C534.55,234.27,531.37,237.8,528.19,237.8C525.01,237.8,521.83,237.15,518.65,236.8C515.46,236.45,512.28,236.05,509.1,235.7C505.92,235.35,502.74,235.27,499.56,234.7C496.38,234.13,493.2,232.92,490.02,232.3C486.83,231.68,483.65,231,480.47,231C477.29,231,474.11,232.3,470.93,232.3C467.75,232.3,464.57,229,461.39,229C458.2,229,455.02,229.2,451.84,229.2C448.66,229.2,445.48,229,442.3,229C439.12,229,435.94,229.2,432.76,229.2C429.57,229.2,426.39,229.13,423.21,229C420.03,228.87,416.85,228.4,413.67,228.4C410.49,228.4,407.31,229.37,404.13,229.5C400.94,229.63,397.76,229.7,394.58,229.7C391.4,229.7,388.22,229.5,385.04,229.5C381.86,229.5,378.68,229.7,375.5,229.7C372.31,229.7,369.13,229.7,365.95,229.7C362.77,229.7,359.59,229.25,356.41,229C353.23,228.75,350.05,228.2,346.87,228.2C343.69,228.2,340.5,228.7,337.32,229C334.14,229.3,330.96,230,327.78,230C324.6,230,321.42,229.27,318.24,229C315.06,228.73,311.87,228.4,308.69,228.4C305.51,228.4,302.33,228.4,299.15,228.4C295.97,228.4,292.79,228.82,289.61,229C286.43,229.18,283.24,229.5,280.06,229.5C276.88,229.5,273.7,229.33,270.52,229C267.34,228.67,264.16,227.67,260.98,227.4C257.8,227.13,254.61,227,251.43,227C248.25,227,245.07,227,241.89,227C238.71,227,235.53,227.13,232.35,227.4C229.17,227.67,225.98,228.28,222.8,229C219.62,229.72,216.44,231.7,213.26,231.7C210.08,231.7,206.9,231.28,203.72,231C200.54,230.72,197.35,230,194.17,230C190.99,230,187.81,231.7,184.63,231.7C181.45,231.7,178.27,231.7,175.09,231.7C171.91,231.7,168.72,231.47,165.54,231C162.36,230.53,159.18,229.07,156,227.6Z" fill="#ee3530" fill-opacity="0.585"/>
<path d="M156,223C159.18,223,162.36,223,165.54,223C168.72,223,171.91,223,175.09,223C178.27,223,181.45,223,184.63,223C187.81,223,190.99,223,194.17,223C197.35,223,200.54,223,203.72,223C206.9,223,210.08,223,213.26,223C216.44,223,219.62,223,222.8,223C225.98,223,229.17,223,232.35,223C235.53,223,238.71,223,241.89,223C245.07,223,248.25,223,251.43,223C254.61,223,257.8,223,260.98,223C264.16,223,267.34,223,270.52,223C273.7,223,276.88,223,280.06,223C283.24,223,286.43,223,289.61,223C292.79,223,295.97,223,299.15,223C302.33,223,305.51,223,308.69,223C311.87,223,315.06,223,318.24,223C321.42,223,324.6,223,327.78,223C330.96,223,334.14,223,337.32,223C340.5,223,343.69,223,346.87,223C350.05,223,353.23,223,356.41,223C359.59,223,362.77,223,365.95,223C369.13,223,372.31,223,375.5,223C378.68,223,381.86,223,385.04,223C388.22,223,391.4,223,394.58,223C397.76,223,400.94,223,404.13,223C407.31,223,410.49,223,413.67,223C416.85,223,420.03,223,423.21,223C426.39,223,429.57,223,432.76,223C435.94,223,439.12,223,442.3,223C445.48,223,448.66,223,451.84,223C455.02,223,458.2,223,461.39,223C464.57,223,467.75,223,470.93,223C474.11,223,477.29,223,480.47,223C483.65,223,486.83,223,490.02,223C493.2,223,496.38,223,499.56,223C502.74,223,505.92,223,509.1,223C512.28,223,515.46,223,518.65,223C521.83,223,525.01,223,528.19,223C531.37,223,534.55,223,537.73,223C540.91,223,544.09,223,547.28,223C550.46,223,553.64,223,556.82,223C560,223,563.18,223,566.36,223C569.54,223,572.72,223,575.91,223C579.09,223,582.27,223,585.45,223C588.63,223,591.81,223,594.99,223C598.17,223,601.35,223,604.54,223C607.72,223,610.9,223,614.08,223C617.26,223,620.44,223,623.62,223C626.8,223,629.98,223,633.17,223C636.35,223,639.53,223,642.71,223C645.89,223,649.07,223,652.25,223C655.43,223,658.61,223,661.8,223C664.98,223,668.16,223,671.34,223C674.52,223,677.7,223,680.88,223C684.06,223,687.24,223,690.43,223C693.61,223,696.79,223,699.97,223C703.15,223,706.33,223,709.51,223C712.69,223,715.87,223,719.06,223C722.24,223,725.42,223,728.6,223C731.78,223,734.96,223,738.14,223C741.32,223,744.5,223,747.69,223C750.87,223,754.05,223,757.23,223C760.41,223,763.59,223,766.77,223C769.95,223,773.13,223,776.31,223C779.5,223,782.68,223,785.86,223C789.04,223,792.22,223,795.4,223C798.58,223,801.76,223,804.94,223C808.13,223,811.31,223,814.49,223C817.67,223,820.85,223,824.03,223C827.21,223,830.39,223,833.57,223C836.76,223,839.94,223,843.12,223C846.3,223,849.48,223,852.66,223C855.84,223,859.02,223,862.2,223C865.39,223,868.57,223,871.75,223C874.93,223,878.11,223,881.29,223C884.47,223,887.65,223,890.83,223C894.02,223,897.2,223,900.38,223C903.56,223,906.74,223,909.92,223C913.1,223,916.28,223,919.46,223C922.65,223,925.83,223,929.01,223C932.19,223,935.37,223,938.55,223C941.73,223,944.91,223,948.09,223C951.28,223,954.46,223,957.64,223C960.82,223,964,223,967.18,223C970.36,223,973.54,223,976.72,223C979.91,223,983.09,223,986.27,223C989.45,223,992.63,223,995.81,223C998.99,223,1002.17,223,1005.35,223C1008.54,223,1011.72,223,1014.9,223C1018.08,223,1021.26,223,1024.44,223C1027.62,223,1030.8,223,1033.98,223C1037.17,223,1040.35,223,1043.53,223C1046.71,223,1049.89,223,1053.07,223C1056.25,223,1059.43,223,1062.61,223C1065.8,223,1068.98,223,1072.16,223C1075.34,223,1078.52,223,1081.7,223C1084.88,223,1088.06,223,1091.24,223C1094.43,223,1097.61,223,1100.79,223C1103.97,223,1107.15,223,1110.33,223C1113.51,223,1116.69,223,1119.87,223C1123.06,223,1126.24,223,1129.42,223C1132.6,223,1135.78,223,1138.96,223C1142.14,223,1145.32,223,1148.5,223C1151.69,223,1154.87,223,1158.05,223C1161.23,223,1164.41,223,1167.59,223C1170.77,223,1173.95,223,1177.13,223C1180.31,223,1183.5,223,1186.68,223C1189.86,223,1193.04,223,1196.22,223C1199.4,223,1202.58,223,1205.76,223C1208.94,223,1212.13,223,1215.31,223C1218.49,223,1221.67,223,1224.85,223C1228.03,223,1231.21,223,1234.39,223C1237.57,223,1240.76,223,1243.94,223C1247.12,223,1250.3,223,1253.48,223C1256.66,223,1259.84,223,1263.02,223C1266.2,223,1269.39,223,1272.57,223C1275.75,223,1278.93,223,1282.11,223C1285.29,223,1288.47,223,1291.65,223C1294.83,223,1298.02,223,1301.2,223C1304.38,223,1307.56,223,1310.74,223C1313.92,223,1317.1,223,1320.28,223C1323.46,223,1326.65,223,1329.83,223C1333.01,223,1336.19,223,1339.37,223C1342.55,223,1345.73,223,1348.91,223C1352.09,223,1355.28,223,1358.46,223C1361.64,223,1364.82,223,1368,223" fill="none" stroke="#ea3232" stroke-width="2"/>
</svg>
<div class="abs yl" style="top:217px">100%</div>
<div class="abs yl" style="top:333px">75%</div>
<div class="abs yl" style="top:457px">50%</div>
<div class="abs yl" style="top:581px">25%</div>
<div class="abs yl" style="top:705px">0%</div>
<div class="abs xl" style="left:56px">Mar 06 23</div>
<div class="abs xl" style="left:246.7px">Jul 24 23</div>
<div class="abs xl" style="left:437.6px">Dec 11 23</div>
<div class="abs xl" style="left:628.5px">Apr 29 24</div>
<div class="abs xl" style="left:819.3px">Sep 16 24</div>
<div class="abs xl" style="left:1010.2px">Feb 10 25</div>
<div class="abs xl" style="left:1201px">Jun 30 25</div>
<div class="sw" style="left:403px;background:#2356c6"></div><div class="abs leg" style="left:438.5px">US</div>
<div class="sw" style="left:496px;background:#71b6dc"></div><div class="abs leg" style="left:532px">Europe</div>
<div class="sw" style="left:637px;background:#ea3232"></div><div class="abs leg" style="left:673px;letter-spacing:-.3px">China</div>
<div class="sw" style="left:762px;background:#cccccc"></div><div class="abs leg" style="left:798px;letter-spacing:.45px">Unaffiliated</div>
<div class="sw" style="left:951px;background:#999999"></div><div class="abs leg" style="left:988px">Other</div>
<div class="abs foot" style="left:67px;letter-spacing:.38px">The ATOM Project (updated 02/2026)</div>
<div class="abs foot" style="left:1094px;letter-spacing:.22px">source: <span style="text-decoration:underline;text-underline-offset:3px">HuggingFace / FT</span></div>
</body></html>
